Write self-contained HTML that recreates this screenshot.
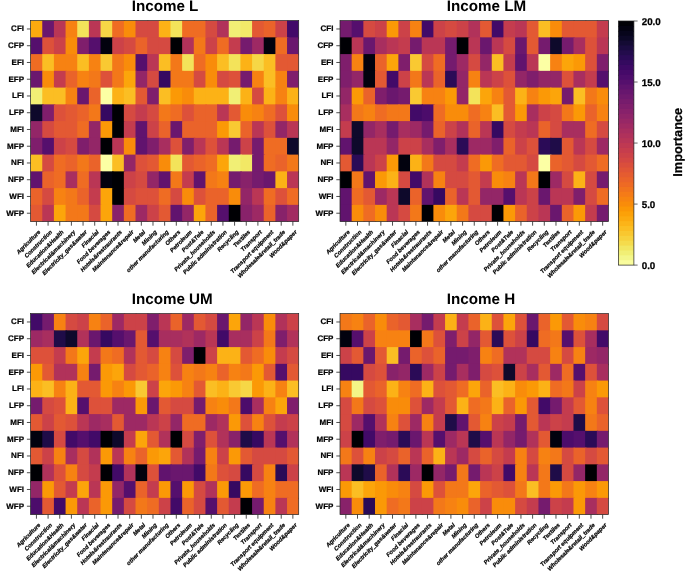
<!DOCTYPE html><html><head><meta charset="utf-8"><title>heatmaps</title><style>html,body{margin:0;padding:0;background:#fff}svg{display:block;will-change:transform}text{font-family:"Liberation Sans",sans-serif;font-weight:bold;fill:#000;text-rendering:geometricPrecision}.s text{stroke:#000;stroke-width:.22px}</style></head><body>
<svg width="685" height="580" viewBox="0 0 685 580">
<rect width="685" height="580" fill="#fff"/>
<g class="s">
<text transform="translate(131.70,10.60) rotate(0.02)" font-size="15.2" style="stroke:none">Income L</text>
<rect x="30.60" y="20.60" width="12.96" height="18.05" fill="#fcaa0f"/>
<rect x="42.26" y="20.60" width="12.96" height="18.05" fill="#6a176e"/>
<rect x="53.91" y="20.60" width="12.96" height="18.05" fill="#ba3655"/>
<rect x="65.57" y="20.60" width="12.96" height="18.05" fill="#f78212"/>
<rect x="77.23" y="20.60" width="12.96" height="18.05" fill="#f3e35a"/>
<rect x="88.88" y="20.60" width="12.96" height="18.05" fill="#ba3655"/>
<rect x="100.54" y="20.60" width="12.96" height="18.05" fill="#f6d746"/>
<rect x="112.20" y="20.60" width="12.96" height="18.05" fill="#ef6c23"/>
<rect x="123.85" y="20.60" width="12.96" height="18.05" fill="#f98c0a"/>
<rect x="135.51" y="20.60" width="12.96" height="18.05" fill="#d54a41"/>
<rect x="147.17" y="20.60" width="12.96" height="18.05" fill="#d54a41"/>
<rect x="158.82" y="20.60" width="12.96" height="18.05" fill="#fcb216"/>
<rect x="170.48" y="20.60" width="12.96" height="18.05" fill="#f3e35a"/>
<rect x="182.13" y="20.60" width="12.96" height="18.05" fill="#ef6c23"/>
<rect x="193.79" y="20.60" width="12.96" height="18.05" fill="#ef6c23"/>
<rect x="205.45" y="20.60" width="12.96" height="18.05" fill="#d54a41"/>
<rect x="217.10" y="20.60" width="12.96" height="18.05" fill="#b1325a"/>
<rect x="228.76" y="20.60" width="12.96" height="18.05" fill="#f1ef75"/>
<rect x="240.42" y="20.60" width="12.96" height="18.05" fill="#f2ea69"/>
<rect x="252.07" y="20.60" width="12.96" height="18.05" fill="#e35933"/>
<rect x="263.73" y="20.60" width="12.96" height="18.05" fill="#ea632a"/>
<rect x="275.39" y="20.60" width="12.96" height="18.05" fill="#cc4248"/>
<rect x="287.04" y="20.60" width="11.66" height="18.05" fill="#420a68"/>
<rect x="30.60" y="37.35" width="12.96" height="18.05" fill="#550f6d"/>
<rect x="42.26" y="37.35" width="12.96" height="18.05" fill="#dd513a"/>
<rect x="53.91" y="37.35" width="12.96" height="18.05" fill="#cc4248"/>
<rect x="65.57" y="37.35" width="12.96" height="18.05" fill="#f98c0a"/>
<rect x="77.23" y="37.35" width="12.96" height="18.05" fill="#7f1e6c"/>
<rect x="88.88" y="37.35" width="12.96" height="18.05" fill="#550f6d"/>
<rect x="100.54" y="37.35" width="12.96" height="18.05" fill="#02020e"/>
<rect x="112.20" y="37.35" width="12.96" height="18.05" fill="#cc4248"/>
<rect x="123.85" y="37.35" width="12.96" height="18.05" fill="#d54a41"/>
<rect x="135.51" y="37.35" width="12.96" height="18.05" fill="#ea632a"/>
<rect x="147.17" y="37.35" width="12.96" height="18.05" fill="#d54a41"/>
<rect x="158.82" y="37.35" width="12.96" height="18.05" fill="#d54a41"/>
<rect x="170.48" y="37.35" width="12.96" height="18.05" fill="#000004"/>
<rect x="182.13" y="37.35" width="12.96" height="18.05" fill="#b1325a"/>
<rect x="193.79" y="37.35" width="12.96" height="18.05" fill="#f37819"/>
<rect x="205.45" y="37.35" width="12.96" height="18.05" fill="#cc4248"/>
<rect x="217.10" y="37.35" width="12.96" height="18.05" fill="#ef6c23"/>
<rect x="228.76" y="37.35" width="12.96" height="18.05" fill="#c43c4e"/>
<rect x="240.42" y="37.35" width="12.96" height="18.05" fill="#751b6e"/>
<rect x="252.07" y="37.35" width="12.96" height="18.05" fill="#9d2964"/>
<rect x="263.73" y="37.35" width="12.96" height="18.05" fill="#02020e"/>
<rect x="275.39" y="37.35" width="12.96" height="18.05" fill="#ef6c23"/>
<rect x="287.04" y="37.35" width="11.66" height="18.05" fill="#6a176e"/>
<rect x="30.60" y="54.10" width="12.96" height="18.05" fill="#ef6c23"/>
<rect x="42.26" y="54.10" width="12.96" height="18.05" fill="#fbbe23"/>
<rect x="53.91" y="54.10" width="12.96" height="18.05" fill="#f78212"/>
<rect x="65.57" y="54.10" width="12.96" height="18.05" fill="#f78212"/>
<rect x="77.23" y="54.10" width="12.96" height="18.05" fill="#fbbe23"/>
<rect x="88.88" y="54.10" width="12.96" height="18.05" fill="#f78212"/>
<rect x="100.54" y="54.10" width="12.96" height="18.05" fill="#f9c932"/>
<rect x="112.20" y="54.10" width="12.96" height="18.05" fill="#f37819"/>
<rect x="123.85" y="54.10" width="12.96" height="18.05" fill="#f98c0a"/>
<rect x="135.51" y="54.10" width="12.96" height="18.05" fill="#550f6d"/>
<rect x="147.17" y="54.10" width="12.96" height="18.05" fill="#ba3655"/>
<rect x="158.82" y="54.10" width="12.96" height="18.05" fill="#fbbe23"/>
<rect x="170.48" y="54.10" width="12.96" height="18.05" fill="#f37819"/>
<rect x="182.13" y="54.10" width="12.96" height="18.05" fill="#f3e35a"/>
<rect x="193.79" y="54.10" width="12.96" height="18.05" fill="#ef6c23"/>
<rect x="205.45" y="54.10" width="12.96" height="18.05" fill="#f98c0a"/>
<rect x="217.10" y="54.10" width="12.96" height="18.05" fill="#fbbe23"/>
<rect x="228.76" y="54.10" width="12.96" height="18.05" fill="#f3e35a"/>
<rect x="240.42" y="54.10" width="12.96" height="18.05" fill="#fcb216"/>
<rect x="252.07" y="54.10" width="12.96" height="18.05" fill="#f6d746"/>
<rect x="263.73" y="54.10" width="12.96" height="18.05" fill="#fbbe23"/>
<rect x="275.39" y="54.10" width="12.96" height="18.05" fill="#e35933"/>
<rect x="287.04" y="54.10" width="11.66" height="18.05" fill="#e35933"/>
<rect x="30.60" y="70.85" width="12.96" height="18.05" fill="#6a176e"/>
<rect x="42.26" y="70.85" width="12.96" height="18.05" fill="#f98c0a"/>
<rect x="53.91" y="70.85" width="12.96" height="18.05" fill="#c43c4e"/>
<rect x="65.57" y="70.85" width="12.96" height="18.05" fill="#ea632a"/>
<rect x="77.23" y="70.85" width="12.96" height="18.05" fill="#f78212"/>
<rect x="88.88" y="70.85" width="12.96" height="18.05" fill="#f37819"/>
<rect x="100.54" y="70.85" width="12.96" height="18.05" fill="#dd513a"/>
<rect x="112.20" y="70.85" width="12.96" height="18.05" fill="#f37819"/>
<rect x="123.85" y="70.85" width="12.96" height="18.05" fill="#fca50a"/>
<rect x="135.51" y="70.85" width="12.96" height="18.05" fill="#932667"/>
<rect x="147.17" y="70.85" width="12.96" height="18.05" fill="#d54a41"/>
<rect x="158.82" y="70.85" width="12.96" height="18.05" fill="#360961"/>
<rect x="170.48" y="70.85" width="12.96" height="18.05" fill="#f37819"/>
<rect x="182.13" y="70.85" width="12.96" height="18.05" fill="#f37819"/>
<rect x="193.79" y="70.85" width="12.96" height="18.05" fill="#d54a41"/>
<rect x="205.45" y="70.85" width="12.96" height="18.05" fill="#f98c0a"/>
<rect x="217.10" y="70.85" width="12.96" height="18.05" fill="#d54a41"/>
<rect x="228.76" y="70.85" width="12.96" height="18.05" fill="#dd513a"/>
<rect x="240.42" y="70.85" width="12.96" height="18.05" fill="#751b6e"/>
<rect x="252.07" y="70.85" width="12.96" height="18.05" fill="#f78212"/>
<rect x="263.73" y="70.85" width="12.96" height="18.05" fill="#fbbe23"/>
<rect x="275.39" y="70.85" width="12.96" height="18.05" fill="#f78212"/>
<rect x="287.04" y="70.85" width="11.66" height="18.05" fill="#7f1e6c"/>
<rect x="30.60" y="87.60" width="12.96" height="18.05" fill="#f1ef75"/>
<rect x="42.26" y="87.60" width="12.96" height="18.05" fill="#fbbe23"/>
<rect x="53.91" y="87.60" width="12.96" height="18.05" fill="#fbbe23"/>
<rect x="65.57" y="87.60" width="12.96" height="18.05" fill="#f78212"/>
<rect x="77.23" y="87.60" width="12.96" height="18.05" fill="#6a176e"/>
<rect x="88.88" y="87.60" width="12.96" height="18.05" fill="#ea632a"/>
<rect x="100.54" y="87.60" width="12.96" height="18.05" fill="#fcffa4"/>
<rect x="112.20" y="87.60" width="12.96" height="18.05" fill="#fcb216"/>
<rect x="123.85" y="87.60" width="12.96" height="18.05" fill="#fbbe23"/>
<rect x="135.51" y="87.60" width="12.96" height="18.05" fill="#e35933"/>
<rect x="147.17" y="87.60" width="12.96" height="18.05" fill="#7f1e6c"/>
<rect x="158.82" y="87.60" width="12.96" height="18.05" fill="#fbbe23"/>
<rect x="170.48" y="87.60" width="12.96" height="18.05" fill="#fb9906"/>
<rect x="182.13" y="87.60" width="12.96" height="18.05" fill="#f98c0a"/>
<rect x="193.79" y="87.60" width="12.96" height="18.05" fill="#fcb216"/>
<rect x="205.45" y="87.60" width="12.96" height="18.05" fill="#fcb216"/>
<rect x="217.10" y="87.60" width="12.96" height="18.05" fill="#fcb216"/>
<rect x="228.76" y="87.60" width="12.96" height="18.05" fill="#f1ef75"/>
<rect x="240.42" y="87.60" width="12.96" height="18.05" fill="#fcb216"/>
<rect x="252.07" y="87.60" width="12.96" height="18.05" fill="#d54a41"/>
<rect x="263.73" y="87.60" width="12.96" height="18.05" fill="#fcb216"/>
<rect x="275.39" y="87.60" width="12.96" height="18.05" fill="#f78212"/>
<rect x="287.04" y="87.60" width="11.66" height="18.05" fill="#fcb216"/>
<rect x="30.60" y="104.35" width="12.96" height="18.05" fill="#0e092b"/>
<rect x="42.26" y="104.35" width="12.96" height="18.05" fill="#7f1e6c"/>
<rect x="53.91" y="104.35" width="12.96" height="18.05" fill="#dd513a"/>
<rect x="65.57" y="104.35" width="12.96" height="18.05" fill="#e35933"/>
<rect x="77.23" y="104.35" width="12.96" height="18.05" fill="#ea632a"/>
<rect x="88.88" y="104.35" width="12.96" height="18.05" fill="#f37819"/>
<rect x="100.54" y="104.35" width="12.96" height="18.05" fill="#360961"/>
<rect x="112.20" y="104.35" width="12.96" height="18.05" fill="#000004"/>
<rect x="123.85" y="104.35" width="12.96" height="18.05" fill="#d54a41"/>
<rect x="135.51" y="104.35" width="12.96" height="18.05" fill="#c43c4e"/>
<rect x="147.17" y="104.35" width="12.96" height="18.05" fill="#d54a41"/>
<rect x="158.82" y="104.35" width="12.96" height="18.05" fill="#f37819"/>
<rect x="170.48" y="104.35" width="12.96" height="18.05" fill="#ef6c23"/>
<rect x="182.13" y="104.35" width="12.96" height="18.05" fill="#dd513a"/>
<rect x="193.79" y="104.35" width="12.96" height="18.05" fill="#ea632a"/>
<rect x="205.45" y="104.35" width="12.96" height="18.05" fill="#ea632a"/>
<rect x="217.10" y="104.35" width="12.96" height="18.05" fill="#ba3655"/>
<rect x="228.76" y="104.35" width="12.96" height="18.05" fill="#e35933"/>
<rect x="240.42" y="104.35" width="12.96" height="18.05" fill="#f98c0a"/>
<rect x="252.07" y="104.35" width="12.96" height="18.05" fill="#f78212"/>
<rect x="263.73" y="104.35" width="12.96" height="18.05" fill="#ef6c23"/>
<rect x="275.39" y="104.35" width="12.96" height="18.05" fill="#dd513a"/>
<rect x="287.04" y="104.35" width="11.66" height="18.05" fill="#f98c0a"/>
<rect x="30.60" y="121.10" width="12.96" height="18.05" fill="#932667"/>
<rect x="42.26" y="121.10" width="12.96" height="18.05" fill="#d54a41"/>
<rect x="53.91" y="121.10" width="12.96" height="18.05" fill="#e35933"/>
<rect x="65.57" y="121.10" width="12.96" height="18.05" fill="#e35933"/>
<rect x="77.23" y="121.10" width="12.96" height="18.05" fill="#ef6c23"/>
<rect x="88.88" y="121.10" width="12.96" height="18.05" fill="#932667"/>
<rect x="100.54" y="121.10" width="12.96" height="18.05" fill="#fb9906"/>
<rect x="112.20" y="121.10" width="12.96" height="18.05" fill="#000004"/>
<rect x="123.85" y="121.10" width="12.96" height="18.05" fill="#c43c4e"/>
<rect x="135.51" y="121.10" width="12.96" height="18.05" fill="#61136e"/>
<rect x="147.17" y="121.10" width="12.96" height="18.05" fill="#cc4248"/>
<rect x="158.82" y="121.10" width="12.96" height="18.05" fill="#ea632a"/>
<rect x="170.48" y="121.10" width="12.96" height="18.05" fill="#6a176e"/>
<rect x="182.13" y="121.10" width="12.96" height="18.05" fill="#ea632a"/>
<rect x="193.79" y="121.10" width="12.96" height="18.05" fill="#ea632a"/>
<rect x="205.45" y="121.10" width="12.96" height="18.05" fill="#ea632a"/>
<rect x="217.10" y="121.10" width="12.96" height="18.05" fill="#fb9906"/>
<rect x="228.76" y="121.10" width="12.96" height="18.05" fill="#f9c932"/>
<rect x="240.42" y="121.10" width="12.96" height="18.05" fill="#ea632a"/>
<rect x="252.07" y="121.10" width="12.96" height="18.05" fill="#ba3655"/>
<rect x="263.73" y="121.10" width="12.96" height="18.05" fill="#dd513a"/>
<rect x="275.39" y="121.10" width="12.96" height="18.05" fill="#932667"/>
<rect x="287.04" y="121.10" width="11.66" height="18.05" fill="#ba3655"/>
<rect x="30.60" y="137.85" width="12.96" height="18.05" fill="#7f1e6c"/>
<rect x="42.26" y="137.85" width="12.96" height="18.05" fill="#550f6d"/>
<rect x="53.91" y="137.85" width="12.96" height="18.05" fill="#cc4248"/>
<rect x="65.57" y="137.85" width="12.96" height="18.05" fill="#d54a41"/>
<rect x="77.23" y="137.85" width="12.96" height="18.05" fill="#7f1e6c"/>
<rect x="88.88" y="137.85" width="12.96" height="18.05" fill="#932667"/>
<rect x="100.54" y="137.85" width="12.96" height="18.05" fill="#000004"/>
<rect x="112.20" y="137.85" width="12.96" height="18.05" fill="#ba3655"/>
<rect x="123.85" y="137.85" width="12.96" height="18.05" fill="#f98c0a"/>
<rect x="135.51" y="137.85" width="12.96" height="18.05" fill="#61136e"/>
<rect x="147.17" y="137.85" width="12.96" height="18.05" fill="#7f1e6c"/>
<rect x="158.82" y="137.85" width="12.96" height="18.05" fill="#a82e5f"/>
<rect x="170.48" y="137.85" width="12.96" height="18.05" fill="#dd513a"/>
<rect x="182.13" y="137.85" width="12.96" height="18.05" fill="#7f1e6c"/>
<rect x="193.79" y="137.85" width="12.96" height="18.05" fill="#ba3655"/>
<rect x="205.45" y="137.85" width="12.96" height="18.05" fill="#dd513a"/>
<rect x="217.10" y="137.85" width="12.96" height="18.05" fill="#ba3655"/>
<rect x="228.76" y="137.85" width="12.96" height="18.05" fill="#751b6e"/>
<rect x="240.42" y="137.85" width="12.96" height="18.05" fill="#cc4248"/>
<rect x="252.07" y="137.85" width="12.96" height="18.05" fill="#751b6e"/>
<rect x="263.73" y="137.85" width="12.96" height="18.05" fill="#ef6c23"/>
<rect x="275.39" y="137.85" width="12.96" height="18.05" fill="#ef6c23"/>
<rect x="287.04" y="137.85" width="11.66" height="18.05" fill="#0e092b"/>
<rect x="30.60" y="154.60" width="12.96" height="18.05" fill="#fbbe23"/>
<rect x="42.26" y="154.60" width="12.96" height="18.05" fill="#d54a41"/>
<rect x="53.91" y="154.60" width="12.96" height="18.05" fill="#ef6c23"/>
<rect x="65.57" y="154.60" width="12.96" height="18.05" fill="#ea632a"/>
<rect x="77.23" y="154.60" width="12.96" height="18.05" fill="#f37819"/>
<rect x="88.88" y="154.60" width="12.96" height="18.05" fill="#ea632a"/>
<rect x="100.54" y="154.60" width="12.96" height="18.05" fill="#fcffa4"/>
<rect x="112.20" y="154.60" width="12.96" height="18.05" fill="#fbbe23"/>
<rect x="123.85" y="154.60" width="12.96" height="18.05" fill="#932667"/>
<rect x="135.51" y="154.60" width="12.96" height="18.05" fill="#dd513a"/>
<rect x="147.17" y="154.60" width="12.96" height="18.05" fill="#e35933"/>
<rect x="158.82" y="154.60" width="12.96" height="18.05" fill="#f98c0a"/>
<rect x="170.48" y="154.60" width="12.96" height="18.05" fill="#f3e35a"/>
<rect x="182.13" y="154.60" width="12.96" height="18.05" fill="#e35933"/>
<rect x="193.79" y="154.60" width="12.96" height="18.05" fill="#ea632a"/>
<rect x="205.45" y="154.60" width="12.96" height="18.05" fill="#ef6c23"/>
<rect x="217.10" y="154.60" width="12.96" height="18.05" fill="#fca50a"/>
<rect x="228.76" y="154.60" width="12.96" height="18.05" fill="#f1ef75"/>
<rect x="240.42" y="154.60" width="12.96" height="18.05" fill="#f2e865"/>
<rect x="252.07" y="154.60" width="12.96" height="18.05" fill="#751b6e"/>
<rect x="263.73" y="154.60" width="12.96" height="18.05" fill="#ef6c23"/>
<rect x="275.39" y="154.60" width="12.96" height="18.05" fill="#ea632a"/>
<rect x="287.04" y="154.60" width="11.66" height="18.05" fill="#f37819"/>
<rect x="30.60" y="171.35" width="12.96" height="18.05" fill="#61136e"/>
<rect x="42.26" y="171.35" width="12.96" height="18.05" fill="#ea632a"/>
<rect x="53.91" y="171.35" width="12.96" height="18.05" fill="#ef6c23"/>
<rect x="65.57" y="171.35" width="12.96" height="18.05" fill="#a82e5f"/>
<rect x="77.23" y="171.35" width="12.96" height="18.05" fill="#ef6c23"/>
<rect x="88.88" y="171.35" width="12.96" height="18.05" fill="#ba3655"/>
<rect x="100.54" y="171.35" width="12.96" height="18.05" fill="#02020e"/>
<rect x="112.20" y="171.35" width="12.96" height="18.05" fill="#000004"/>
<rect x="123.85" y="171.35" width="12.96" height="18.05" fill="#cc4248"/>
<rect x="135.51" y="171.35" width="12.96" height="18.05" fill="#d54a41"/>
<rect x="147.17" y="171.35" width="12.96" height="18.05" fill="#932667"/>
<rect x="158.82" y="171.35" width="12.96" height="18.05" fill="#61136e"/>
<rect x="170.48" y="171.35" width="12.96" height="18.05" fill="#f37819"/>
<rect x="182.13" y="171.35" width="12.96" height="18.05" fill="#c43c4e"/>
<rect x="193.79" y="171.35" width="12.96" height="18.05" fill="#61136e"/>
<rect x="205.45" y="171.35" width="12.96" height="18.05" fill="#f37819"/>
<rect x="217.10" y="171.35" width="12.96" height="18.05" fill="#f78212"/>
<rect x="228.76" y="171.35" width="12.96" height="18.05" fill="#751b6e"/>
<rect x="240.42" y="171.35" width="12.96" height="18.05" fill="#88226a"/>
<rect x="252.07" y="171.35" width="12.96" height="18.05" fill="#751b6e"/>
<rect x="263.73" y="171.35" width="12.96" height="18.05" fill="#6a176e"/>
<rect x="275.39" y="171.35" width="12.96" height="18.05" fill="#fcb216"/>
<rect x="287.04" y="171.35" width="11.66" height="18.05" fill="#ba3655"/>
<rect x="30.60" y="188.10" width="12.96" height="18.05" fill="#ea632a"/>
<rect x="42.26" y="188.10" width="12.96" height="18.05" fill="#d54a41"/>
<rect x="53.91" y="188.10" width="12.96" height="18.05" fill="#f78212"/>
<rect x="65.57" y="188.10" width="12.96" height="18.05" fill="#f37819"/>
<rect x="77.23" y="188.10" width="12.96" height="18.05" fill="#ea632a"/>
<rect x="88.88" y="188.10" width="12.96" height="18.05" fill="#c43c4e"/>
<rect x="100.54" y="188.10" width="12.96" height="18.05" fill="#fca50a"/>
<rect x="112.20" y="188.10" width="12.96" height="18.05" fill="#000004"/>
<rect x="123.85" y="188.10" width="12.96" height="18.05" fill="#d54a41"/>
<rect x="135.51" y="188.10" width="12.96" height="18.05" fill="#dd513a"/>
<rect x="147.17" y="188.10" width="12.96" height="18.05" fill="#dd513a"/>
<rect x="158.82" y="188.10" width="12.96" height="18.05" fill="#ef6c23"/>
<rect x="170.48" y="188.10" width="12.96" height="18.05" fill="#d54a41"/>
<rect x="182.13" y="188.10" width="12.96" height="18.05" fill="#f98c0a"/>
<rect x="193.79" y="188.10" width="12.96" height="18.05" fill="#dd513a"/>
<rect x="205.45" y="188.10" width="12.96" height="18.05" fill="#ea632a"/>
<rect x="217.10" y="188.10" width="12.96" height="18.05" fill="#ea632a"/>
<rect x="228.76" y="188.10" width="12.96" height="18.05" fill="#f98c0a"/>
<rect x="240.42" y="188.10" width="12.96" height="18.05" fill="#932667"/>
<rect x="252.07" y="188.10" width="12.96" height="18.05" fill="#ba3655"/>
<rect x="263.73" y="188.10" width="12.96" height="18.05" fill="#ef6c23"/>
<rect x="275.39" y="188.10" width="12.96" height="18.05" fill="#dd513a"/>
<rect x="287.04" y="188.10" width="11.66" height="18.05" fill="#ef6c23"/>
<rect x="30.60" y="204.85" width="12.96" height="16.75" fill="#e35933"/>
<rect x="42.26" y="204.85" width="12.96" height="16.75" fill="#ba3655"/>
<rect x="53.91" y="204.85" width="12.96" height="16.75" fill="#fca50a"/>
<rect x="65.57" y="204.85" width="12.96" height="16.75" fill="#f37819"/>
<rect x="77.23" y="204.85" width="12.96" height="16.75" fill="#f37819"/>
<rect x="88.88" y="204.85" width="12.96" height="16.75" fill="#d54a41"/>
<rect x="100.54" y="204.85" width="12.96" height="16.75" fill="#fca50a"/>
<rect x="112.20" y="204.85" width="12.96" height="16.75" fill="#88226a"/>
<rect x="123.85" y="204.85" width="12.96" height="16.75" fill="#ef6c23"/>
<rect x="135.51" y="204.85" width="12.96" height="16.75" fill="#9d2964"/>
<rect x="147.17" y="204.85" width="12.96" height="16.75" fill="#cc4248"/>
<rect x="158.82" y="204.85" width="12.96" height="16.75" fill="#e35933"/>
<rect x="170.48" y="204.85" width="12.96" height="16.75" fill="#61136e"/>
<rect x="182.13" y="204.85" width="12.96" height="16.75" fill="#932667"/>
<rect x="193.79" y="204.85" width="12.96" height="16.75" fill="#fca50a"/>
<rect x="205.45" y="204.85" width="12.96" height="16.75" fill="#ea632a"/>
<rect x="217.10" y="204.85" width="12.96" height="16.75" fill="#550f6d"/>
<rect x="228.76" y="204.85" width="12.96" height="16.75" fill="#000004"/>
<rect x="240.42" y="204.85" width="12.96" height="16.75" fill="#88226a"/>
<rect x="252.07" y="204.85" width="12.96" height="16.75" fill="#9d2964"/>
<rect x="263.73" y="204.85" width="12.96" height="16.75" fill="#ea632a"/>
<rect x="275.39" y="204.85" width="12.96" height="16.75" fill="#88226a"/>
<rect x="287.04" y="204.85" width="11.66" height="16.75" fill="#a22b62"/>
<rect x="30.60" y="20.60" width="268.10" height="201.00" fill="none" stroke="#222" stroke-width="0.7"/>
<line x1="26.90" y1="28.98" x2="30.60" y2="28.98" stroke="#222" stroke-width="0.8"/>
<text x="24.00" y="31.38" font-size="8" text-anchor="end">CFI</text>
<line x1="26.90" y1="45.73" x2="30.60" y2="45.73" stroke="#222" stroke-width="0.8"/>
<text x="24.00" y="48.12" font-size="8" text-anchor="end">CFP</text>
<line x1="26.90" y1="62.48" x2="30.60" y2="62.48" stroke="#222" stroke-width="0.8"/>
<text x="24.00" y="64.88" font-size="8" text-anchor="end">EFI</text>
<line x1="26.90" y1="79.22" x2="30.60" y2="79.22" stroke="#222" stroke-width="0.8"/>
<text x="24.00" y="81.62" font-size="8" text-anchor="end">EFP</text>
<line x1="26.90" y1="95.97" x2="30.60" y2="95.97" stroke="#222" stroke-width="0.8"/>
<text x="24.00" y="98.38" font-size="8" text-anchor="end">LFI</text>
<line x1="26.90" y1="112.72" x2="30.60" y2="112.72" stroke="#222" stroke-width="0.8"/>
<text x="24.00" y="115.12" font-size="8" text-anchor="end">LFP</text>
<line x1="26.90" y1="129.47" x2="30.60" y2="129.47" stroke="#222" stroke-width="0.8"/>
<text x="24.00" y="131.88" font-size="8" text-anchor="end">MFI</text>
<line x1="26.90" y1="146.22" x2="30.60" y2="146.22" stroke="#222" stroke-width="0.8"/>
<text x="24.00" y="148.62" font-size="8" text-anchor="end">MFP</text>
<line x1="26.90" y1="162.97" x2="30.60" y2="162.97" stroke="#222" stroke-width="0.8"/>
<text x="24.00" y="165.38" font-size="8" text-anchor="end">NFI</text>
<line x1="26.90" y1="179.72" x2="30.60" y2="179.72" stroke="#222" stroke-width="0.8"/>
<text x="24.00" y="182.12" font-size="8" text-anchor="end">NFP</text>
<line x1="26.90" y1="196.47" x2="30.60" y2="196.47" stroke="#222" stroke-width="0.8"/>
<text x="24.00" y="198.88" font-size="8" text-anchor="end">WFI</text>
<line x1="26.90" y1="213.22" x2="30.60" y2="213.22" stroke="#222" stroke-width="0.8"/>
<text x="24.00" y="215.62" font-size="8" text-anchor="end">WFP</text>
<line x1="36.43" y1="221.60" x2="36.43" y2="225.70" stroke="#222" stroke-width="0.8"/>
<text transform="translate(40.83,232.50) rotate(-45)" font-size="5.85" font-style="italic" text-anchor="end">Agriculture</text>
<line x1="48.08" y1="221.60" x2="48.08" y2="225.70" stroke="#222" stroke-width="0.8"/>
<text transform="translate(52.48,232.50) rotate(-45)" font-size="5.85" font-style="italic" text-anchor="end">Construction</text>
<line x1="59.74" y1="221.60" x2="59.74" y2="225.70" stroke="#222" stroke-width="0.8"/>
<text transform="translate(64.14,232.50) rotate(-45)" font-size="5.85" font-style="italic" text-anchor="end">Education&amp;Health</text>
<line x1="71.40" y1="221.60" x2="71.40" y2="225.70" stroke="#222" stroke-width="0.8"/>
<text transform="translate(75.80,232.50) rotate(-45)" font-size="5.85" font-style="italic" text-anchor="end">Electrical&amp;machinery</text>
<line x1="83.05" y1="221.60" x2="83.05" y2="225.70" stroke="#222" stroke-width="0.8"/>
<text transform="translate(87.45,232.50) rotate(-45)" font-size="5.85" font-style="italic" text-anchor="end">Electricity_gas&amp;water</text>
<line x1="94.71" y1="221.60" x2="94.71" y2="225.70" stroke="#222" stroke-width="0.8"/>
<text transform="translate(99.11,232.50) rotate(-45)" font-size="5.85" font-style="italic" text-anchor="end">Finacial</text>
<line x1="106.37" y1="221.60" x2="106.37" y2="225.70" stroke="#222" stroke-width="0.8"/>
<text transform="translate(110.77,232.50) rotate(-45)" font-size="5.85" font-style="italic" text-anchor="end">Food beverages</text>
<line x1="118.02" y1="221.60" x2="118.02" y2="225.70" stroke="#222" stroke-width="0.8"/>
<text transform="translate(122.42,232.50) rotate(-45)" font-size="5.85" font-style="italic" text-anchor="end">Hotels&amp;restraurants</text>
<line x1="129.68" y1="221.60" x2="129.68" y2="225.70" stroke="#222" stroke-width="0.8"/>
<text transform="translate(134.08,232.50) rotate(-45)" font-size="5.85" font-style="italic" text-anchor="end">Maintenance&amp;repair</text>
<line x1="141.34" y1="221.60" x2="141.34" y2="225.70" stroke="#222" stroke-width="0.8"/>
<text transform="translate(145.74,232.50) rotate(-45)" font-size="5.85" font-style="italic" text-anchor="end">Metal</text>
<line x1="152.99" y1="221.60" x2="152.99" y2="225.70" stroke="#222" stroke-width="0.8"/>
<text transform="translate(157.39,232.50) rotate(-45)" font-size="5.85" font-style="italic" text-anchor="end">Mining</text>
<line x1="164.65" y1="221.60" x2="164.65" y2="225.70" stroke="#222" stroke-width="0.8"/>
<text transform="translate(169.05,232.50) rotate(-45)" font-size="5.85" font-style="italic" text-anchor="end">other manufacturing</text>
<line x1="176.31" y1="221.60" x2="176.31" y2="225.70" stroke="#222" stroke-width="0.8"/>
<text transform="translate(180.71,232.50) rotate(-45)" font-size="5.85" font-style="italic" text-anchor="end">Others</text>
<line x1="187.96" y1="221.60" x2="187.96" y2="225.70" stroke="#222" stroke-width="0.8"/>
<text transform="translate(192.36,232.50) rotate(-45)" font-size="5.85" font-style="italic" text-anchor="end">Petroleum</text>
<line x1="199.62" y1="221.60" x2="199.62" y2="225.70" stroke="#222" stroke-width="0.8"/>
<text transform="translate(204.02,232.50) rotate(-45)" font-size="5.85" font-style="italic" text-anchor="end">Post&amp;Tele</text>
<line x1="211.28" y1="221.60" x2="211.28" y2="225.70" stroke="#222" stroke-width="0.8"/>
<text transform="translate(215.68,232.50) rotate(-45)" font-size="5.85" font-style="italic" text-anchor="end">Private_households</text>
<line x1="222.93" y1="221.60" x2="222.93" y2="225.70" stroke="#222" stroke-width="0.8"/>
<text transform="translate(227.33,232.50) rotate(-45)" font-size="5.85" font-style="italic" text-anchor="end">Public administration</text>
<line x1="234.59" y1="221.60" x2="234.59" y2="225.70" stroke="#222" stroke-width="0.8"/>
<text transform="translate(238.99,232.50) rotate(-45)" font-size="5.85" font-style="italic" text-anchor="end">Recycling</text>
<line x1="246.25" y1="221.60" x2="246.25" y2="225.70" stroke="#222" stroke-width="0.8"/>
<text transform="translate(250.65,232.50) rotate(-45)" font-size="5.85" font-style="italic" text-anchor="end">Textiles</text>
<line x1="257.90" y1="221.60" x2="257.90" y2="225.70" stroke="#222" stroke-width="0.8"/>
<text transform="translate(262.30,232.50) rotate(-45)" font-size="5.85" font-style="italic" text-anchor="end">Transport</text>
<line x1="269.56" y1="221.60" x2="269.56" y2="225.70" stroke="#222" stroke-width="0.8"/>
<text transform="translate(273.96,232.50) rotate(-45)" font-size="5.85" font-style="italic" text-anchor="end">Transport equipment</text>
<line x1="281.22" y1="221.60" x2="281.22" y2="225.70" stroke="#222" stroke-width="0.8"/>
<text transform="translate(285.62,232.50) rotate(-45)" font-size="5.85" font-style="italic" text-anchor="end">Wholesale&amp;retail_trade</text>
<line x1="292.87" y1="221.60" x2="292.87" y2="225.70" stroke="#222" stroke-width="0.8"/>
<text transform="translate(297.27,232.50) rotate(-45)" font-size="5.85" font-style="italic" text-anchor="end">Wood&amp;paper</text>
</g>
<g class="s">
<text transform="translate(446.80,10.60) rotate(0.02)" font-size="15.2" style="stroke:none">Income LM</text>
<rect x="340.00" y="20.60" width="12.97" height="18.05" fill="#751b6e"/>
<rect x="351.67" y="20.60" width="12.97" height="18.05" fill="#550f6d"/>
<rect x="363.35" y="20.60" width="12.97" height="18.05" fill="#d54a41"/>
<rect x="375.02" y="20.60" width="12.97" height="18.05" fill="#cc4248"/>
<rect x="386.70" y="20.60" width="12.97" height="18.05" fill="#fb9906"/>
<rect x="398.37" y="20.60" width="12.97" height="18.05" fill="#cc4248"/>
<rect x="410.04" y="20.60" width="12.97" height="18.05" fill="#f78212"/>
<rect x="421.72" y="20.60" width="12.97" height="18.05" fill="#420a68"/>
<rect x="433.39" y="20.60" width="12.97" height="18.05" fill="#cc4248"/>
<rect x="445.07" y="20.60" width="12.97" height="18.05" fill="#d54a41"/>
<rect x="456.74" y="20.60" width="12.97" height="18.05" fill="#cc4248"/>
<rect x="468.41" y="20.60" width="12.97" height="18.05" fill="#b1325a"/>
<rect x="480.09" y="20.60" width="12.97" height="18.05" fill="#e35933"/>
<rect x="491.76" y="20.60" width="12.97" height="18.05" fill="#420a68"/>
<rect x="503.43" y="20.60" width="12.97" height="18.05" fill="#c43c4e"/>
<rect x="515.11" y="20.60" width="12.97" height="18.05" fill="#ba3655"/>
<rect x="526.78" y="20.60" width="12.97" height="18.05" fill="#e35933"/>
<rect x="538.46" y="20.60" width="12.97" height="18.05" fill="#fbbe23"/>
<rect x="550.13" y="20.60" width="12.97" height="18.05" fill="#f98c0a"/>
<rect x="561.80" y="20.60" width="12.97" height="18.05" fill="#e35933"/>
<rect x="573.48" y="20.60" width="12.97" height="18.05" fill="#e35933"/>
<rect x="585.15" y="20.60" width="12.97" height="18.05" fill="#e35933"/>
<rect x="596.83" y="20.60" width="11.67" height="18.05" fill="#c43c4e"/>
<rect x="340.00" y="37.35" width="12.97" height="18.05" fill="#000004"/>
<rect x="351.67" y="37.35" width="12.97" height="18.05" fill="#ba3655"/>
<rect x="363.35" y="37.35" width="12.97" height="18.05" fill="#6a176e"/>
<rect x="375.02" y="37.35" width="12.97" height="18.05" fill="#a82e5f"/>
<rect x="386.70" y="37.35" width="12.97" height="18.05" fill="#ba3655"/>
<rect x="398.37" y="37.35" width="12.97" height="18.05" fill="#c43c4e"/>
<rect x="410.04" y="37.35" width="12.97" height="18.05" fill="#751b6e"/>
<rect x="421.72" y="37.35" width="12.97" height="18.05" fill="#ba3655"/>
<rect x="433.39" y="37.35" width="12.97" height="18.05" fill="#ba3655"/>
<rect x="445.07" y="37.35" width="12.97" height="18.05" fill="#751b6e"/>
<rect x="456.74" y="37.35" width="12.97" height="18.05" fill="#000004"/>
<rect x="468.41" y="37.35" width="12.97" height="18.05" fill="#ba3655"/>
<rect x="480.09" y="37.35" width="12.97" height="18.05" fill="#6a176e"/>
<rect x="491.76" y="37.35" width="12.97" height="18.05" fill="#ba3655"/>
<rect x="503.43" y="37.35" width="12.97" height="18.05" fill="#d54a41"/>
<rect x="515.11" y="37.35" width="12.97" height="18.05" fill="#6a176e"/>
<rect x="526.78" y="37.35" width="12.97" height="18.05" fill="#e35933"/>
<rect x="538.46" y="37.35" width="12.97" height="18.05" fill="#751b6e"/>
<rect x="550.13" y="37.35" width="12.97" height="18.05" fill="#0e092b"/>
<rect x="561.80" y="37.35" width="12.97" height="18.05" fill="#751b6e"/>
<rect x="573.48" y="37.35" width="12.97" height="18.05" fill="#a82e5f"/>
<rect x="585.15" y="37.35" width="12.97" height="18.05" fill="#dd513a"/>
<rect x="596.83" y="37.35" width="11.67" height="18.05" fill="#ba3655"/>
<rect x="340.00" y="54.10" width="12.97" height="18.05" fill="#7f1e6c"/>
<rect x="351.67" y="54.10" width="12.97" height="18.05" fill="#f78212"/>
<rect x="363.35" y="54.10" width="12.97" height="18.05" fill="#02020e"/>
<rect x="375.02" y="54.10" width="12.97" height="18.05" fill="#ea632a"/>
<rect x="386.70" y="54.10" width="12.97" height="18.05" fill="#fca50a"/>
<rect x="398.37" y="54.10" width="12.97" height="18.05" fill="#7f1e6c"/>
<rect x="410.04" y="54.10" width="12.97" height="18.05" fill="#f9c932"/>
<rect x="421.72" y="54.10" width="12.97" height="18.05" fill="#d54a41"/>
<rect x="433.39" y="54.10" width="12.97" height="18.05" fill="#ef6c23"/>
<rect x="445.07" y="54.10" width="12.97" height="18.05" fill="#751b6e"/>
<rect x="456.74" y="54.10" width="12.97" height="18.05" fill="#9d2964"/>
<rect x="468.41" y="54.10" width="12.97" height="18.05" fill="#d54a41"/>
<rect x="480.09" y="54.10" width="12.97" height="18.05" fill="#932667"/>
<rect x="491.76" y="54.10" width="12.97" height="18.05" fill="#fbbe23"/>
<rect x="503.43" y="54.10" width="12.97" height="18.05" fill="#c43c4e"/>
<rect x="515.11" y="54.10" width="12.97" height="18.05" fill="#61136e"/>
<rect x="526.78" y="54.10" width="12.97" height="18.05" fill="#ba3655"/>
<rect x="538.46" y="54.10" width="12.97" height="18.05" fill="#fcffa4"/>
<rect x="550.13" y="54.10" width="12.97" height="18.05" fill="#f78212"/>
<rect x="561.80" y="54.10" width="12.97" height="18.05" fill="#fca50a"/>
<rect x="573.48" y="54.10" width="12.97" height="18.05" fill="#fb9906"/>
<rect x="585.15" y="54.10" width="12.97" height="18.05" fill="#dd513a"/>
<rect x="596.83" y="54.10" width="11.67" height="18.05" fill="#7f1e6c"/>
<rect x="340.00" y="70.85" width="12.97" height="18.05" fill="#7f1e6c"/>
<rect x="351.67" y="70.85" width="12.97" height="18.05" fill="#932667"/>
<rect x="363.35" y="70.85" width="12.97" height="18.05" fill="#02020e"/>
<rect x="375.02" y="70.85" width="12.97" height="18.05" fill="#e35933"/>
<rect x="386.70" y="70.85" width="12.97" height="18.05" fill="#420a68"/>
<rect x="398.37" y="70.85" width="12.97" height="18.05" fill="#cc4248"/>
<rect x="410.04" y="70.85" width="12.97" height="18.05" fill="#f37819"/>
<rect x="421.72" y="70.85" width="12.97" height="18.05" fill="#ba3655"/>
<rect x="433.39" y="70.85" width="12.97" height="18.05" fill="#ea632a"/>
<rect x="445.07" y="70.85" width="12.97" height="18.05" fill="#2b0b57"/>
<rect x="456.74" y="70.85" width="12.97" height="18.05" fill="#932667"/>
<rect x="468.41" y="70.85" width="12.97" height="18.05" fill="#f78212"/>
<rect x="480.09" y="70.85" width="12.97" height="18.05" fill="#ba3655"/>
<rect x="491.76" y="70.85" width="12.97" height="18.05" fill="#cc4248"/>
<rect x="503.43" y="70.85" width="12.97" height="18.05" fill="#dd513a"/>
<rect x="515.11" y="70.85" width="12.97" height="18.05" fill="#932667"/>
<rect x="526.78" y="70.85" width="12.97" height="18.05" fill="#7f1e6c"/>
<rect x="538.46" y="70.85" width="12.97" height="18.05" fill="#932667"/>
<rect x="550.13" y="70.85" width="12.97" height="18.05" fill="#932667"/>
<rect x="561.80" y="70.85" width="12.97" height="18.05" fill="#dd513a"/>
<rect x="573.48" y="70.85" width="12.97" height="18.05" fill="#a82e5f"/>
<rect x="585.15" y="70.85" width="12.97" height="18.05" fill="#c43c4e"/>
<rect x="596.83" y="70.85" width="11.67" height="18.05" fill="#550f6d"/>
<rect x="340.00" y="87.60" width="12.97" height="18.05" fill="#932667"/>
<rect x="351.67" y="87.60" width="12.97" height="18.05" fill="#fb9906"/>
<rect x="363.35" y="87.60" width="12.97" height="18.05" fill="#ea632a"/>
<rect x="375.02" y="87.60" width="12.97" height="18.05" fill="#7f1e6c"/>
<rect x="386.70" y="87.60" width="12.97" height="18.05" fill="#6a176e"/>
<rect x="398.37" y="87.60" width="12.97" height="18.05" fill="#751b6e"/>
<rect x="410.04" y="87.60" width="12.97" height="18.05" fill="#f9c932"/>
<rect x="421.72" y="87.60" width="12.97" height="18.05" fill="#f78212"/>
<rect x="433.39" y="87.60" width="12.97" height="18.05" fill="#f78212"/>
<rect x="445.07" y="87.60" width="12.97" height="18.05" fill="#fb9906"/>
<rect x="456.74" y="87.60" width="12.97" height="18.05" fill="#932667"/>
<rect x="468.41" y="87.60" width="12.97" height="18.05" fill="#f3e35a"/>
<rect x="480.09" y="87.60" width="12.97" height="18.05" fill="#fca50a"/>
<rect x="491.76" y="87.60" width="12.97" height="18.05" fill="#f78212"/>
<rect x="503.43" y="87.60" width="12.97" height="18.05" fill="#e35933"/>
<rect x="515.11" y="87.60" width="12.97" height="18.05" fill="#fcb216"/>
<rect x="526.78" y="87.60" width="12.97" height="18.05" fill="#f78212"/>
<rect x="538.46" y="87.60" width="12.97" height="18.05" fill="#fb9906"/>
<rect x="550.13" y="87.60" width="12.97" height="18.05" fill="#fca50a"/>
<rect x="561.80" y="87.60" width="12.97" height="18.05" fill="#751b6e"/>
<rect x="573.48" y="87.60" width="12.97" height="18.05" fill="#fbbe23"/>
<rect x="585.15" y="87.60" width="12.97" height="18.05" fill="#f37819"/>
<rect x="596.83" y="87.60" width="11.67" height="18.05" fill="#f98c0a"/>
<rect x="340.00" y="104.35" width="12.97" height="18.05" fill="#a82e5f"/>
<rect x="351.67" y="104.35" width="12.97" height="18.05" fill="#f37819"/>
<rect x="363.35" y="104.35" width="12.97" height="18.05" fill="#f78212"/>
<rect x="375.02" y="104.35" width="12.97" height="18.05" fill="#ef6c23"/>
<rect x="386.70" y="104.35" width="12.97" height="18.05" fill="#f37819"/>
<rect x="398.37" y="104.35" width="12.97" height="18.05" fill="#f37819"/>
<rect x="410.04" y="104.35" width="12.97" height="18.05" fill="#420a68"/>
<rect x="421.72" y="104.35" width="12.97" height="18.05" fill="#4c0c6b"/>
<rect x="433.39" y="104.35" width="12.97" height="18.05" fill="#ef6c23"/>
<rect x="445.07" y="104.35" width="12.97" height="18.05" fill="#f98c0a"/>
<rect x="456.74" y="104.35" width="12.97" height="18.05" fill="#f98c0a"/>
<rect x="468.41" y="104.35" width="12.97" height="18.05" fill="#ef6c23"/>
<rect x="480.09" y="104.35" width="12.97" height="18.05" fill="#f78212"/>
<rect x="491.76" y="104.35" width="12.97" height="18.05" fill="#fbbe23"/>
<rect x="503.43" y="104.35" width="12.97" height="18.05" fill="#e35933"/>
<rect x="515.11" y="104.35" width="12.97" height="18.05" fill="#fb9906"/>
<rect x="526.78" y="104.35" width="12.97" height="18.05" fill="#a82e5f"/>
<rect x="538.46" y="104.35" width="12.97" height="18.05" fill="#cc4248"/>
<rect x="550.13" y="104.35" width="12.97" height="18.05" fill="#d54a41"/>
<rect x="561.80" y="104.35" width="12.97" height="18.05" fill="#f37819"/>
<rect x="573.48" y="104.35" width="12.97" height="18.05" fill="#fb9906"/>
<rect x="585.15" y="104.35" width="12.97" height="18.05" fill="#ea632a"/>
<rect x="596.83" y="104.35" width="11.67" height="18.05" fill="#f78212"/>
<rect x="340.00" y="121.10" width="12.97" height="18.05" fill="#c43c4e"/>
<rect x="351.67" y="121.10" width="12.97" height="18.05" fill="#0e092b"/>
<rect x="363.35" y="121.10" width="12.97" height="18.05" fill="#932667"/>
<rect x="375.02" y="121.10" width="12.97" height="18.05" fill="#a82e5f"/>
<rect x="386.70" y="121.10" width="12.97" height="18.05" fill="#751b6e"/>
<rect x="398.37" y="121.10" width="12.97" height="18.05" fill="#a82e5f"/>
<rect x="410.04" y="121.10" width="12.97" height="18.05" fill="#9d2964"/>
<rect x="421.72" y="121.10" width="12.97" height="18.05" fill="#751b6e"/>
<rect x="433.39" y="121.10" width="12.97" height="18.05" fill="#ea632a"/>
<rect x="445.07" y="121.10" width="12.97" height="18.05" fill="#cc4248"/>
<rect x="456.74" y="121.10" width="12.97" height="18.05" fill="#b1325a"/>
<rect x="468.41" y="121.10" width="12.97" height="18.05" fill="#ea632a"/>
<rect x="480.09" y="121.10" width="12.97" height="18.05" fill="#ba3655"/>
<rect x="491.76" y="121.10" width="12.97" height="18.05" fill="#360961"/>
<rect x="503.43" y="121.10" width="12.97" height="18.05" fill="#d54a41"/>
<rect x="515.11" y="121.10" width="12.97" height="18.05" fill="#c43c4e"/>
<rect x="526.78" y="121.10" width="12.97" height="18.05" fill="#ba3655"/>
<rect x="538.46" y="121.10" width="12.97" height="18.05" fill="#ea632a"/>
<rect x="550.13" y="121.10" width="12.97" height="18.05" fill="#d54a41"/>
<rect x="561.80" y="121.10" width="12.97" height="18.05" fill="#a82e5f"/>
<rect x="573.48" y="121.10" width="12.97" height="18.05" fill="#a82e5f"/>
<rect x="585.15" y="121.10" width="12.97" height="18.05" fill="#ef6c23"/>
<rect x="596.83" y="121.10" width="11.67" height="18.05" fill="#d54a41"/>
<rect x="340.00" y="137.85" width="12.97" height="18.05" fill="#61136e"/>
<rect x="351.67" y="137.85" width="12.97" height="18.05" fill="#0e092b"/>
<rect x="363.35" y="137.85" width="12.97" height="18.05" fill="#ba3655"/>
<rect x="375.02" y="137.85" width="12.97" height="18.05" fill="#ba3655"/>
<rect x="386.70" y="137.85" width="12.97" height="18.05" fill="#932667"/>
<rect x="398.37" y="137.85" width="12.97" height="18.05" fill="#cc4248"/>
<rect x="410.04" y="137.85" width="12.97" height="18.05" fill="#cc4248"/>
<rect x="421.72" y="137.85" width="12.97" height="18.05" fill="#a82e5f"/>
<rect x="433.39" y="137.85" width="12.97" height="18.05" fill="#7f1e6c"/>
<rect x="445.07" y="137.85" width="12.97" height="18.05" fill="#a82e5f"/>
<rect x="456.74" y="137.85" width="12.97" height="18.05" fill="#2b0b57"/>
<rect x="468.41" y="137.85" width="12.97" height="18.05" fill="#9d2964"/>
<rect x="480.09" y="137.85" width="12.97" height="18.05" fill="#9d2964"/>
<rect x="491.76" y="137.85" width="12.97" height="18.05" fill="#7f1e6c"/>
<rect x="503.43" y="137.85" width="12.97" height="18.05" fill="#ea632a"/>
<rect x="515.11" y="137.85" width="12.97" height="18.05" fill="#cc4248"/>
<rect x="526.78" y="137.85" width="12.97" height="18.05" fill="#dd513a"/>
<rect x="538.46" y="137.85" width="12.97" height="18.05" fill="#2b0b57"/>
<rect x="550.13" y="137.85" width="12.97" height="18.05" fill="#1f0c48"/>
<rect x="561.80" y="137.85" width="12.97" height="18.05" fill="#e35933"/>
<rect x="573.48" y="137.85" width="12.97" height="18.05" fill="#ba3655"/>
<rect x="585.15" y="137.85" width="12.97" height="18.05" fill="#d54a41"/>
<rect x="596.83" y="137.85" width="11.67" height="18.05" fill="#9d2964"/>
<rect x="340.00" y="154.60" width="12.97" height="18.05" fill="#e35933"/>
<rect x="351.67" y="154.60" width="12.97" height="18.05" fill="#2b0b57"/>
<rect x="363.35" y="154.60" width="12.97" height="18.05" fill="#ba3655"/>
<rect x="375.02" y="154.60" width="12.97" height="18.05" fill="#cc4248"/>
<rect x="386.70" y="154.60" width="12.97" height="18.05" fill="#fb9906"/>
<rect x="398.37" y="154.60" width="12.97" height="18.05" fill="#02020e"/>
<rect x="410.04" y="154.60" width="12.97" height="18.05" fill="#fcb216"/>
<rect x="421.72" y="154.60" width="12.97" height="18.05" fill="#f37819"/>
<rect x="433.39" y="154.60" width="12.97" height="18.05" fill="#d54a41"/>
<rect x="445.07" y="154.60" width="12.97" height="18.05" fill="#d54a41"/>
<rect x="456.74" y="154.60" width="12.97" height="18.05" fill="#c43c4e"/>
<rect x="468.41" y="154.60" width="12.97" height="18.05" fill="#ef6c23"/>
<rect x="480.09" y="154.60" width="12.97" height="18.05" fill="#fb9906"/>
<rect x="491.76" y="154.60" width="12.97" height="18.05" fill="#ef6c23"/>
<rect x="503.43" y="154.60" width="12.97" height="18.05" fill="#e35933"/>
<rect x="515.11" y="154.60" width="12.97" height="18.05" fill="#e35933"/>
<rect x="526.78" y="154.60" width="12.97" height="18.05" fill="#d54a41"/>
<rect x="538.46" y="154.60" width="12.97" height="18.05" fill="#fcffa4"/>
<rect x="550.13" y="154.60" width="12.97" height="18.05" fill="#ea632a"/>
<rect x="561.80" y="154.60" width="12.97" height="18.05" fill="#e35933"/>
<rect x="573.48" y="154.60" width="12.97" height="18.05" fill="#d54a41"/>
<rect x="585.15" y="154.60" width="12.97" height="18.05" fill="#e35933"/>
<rect x="596.83" y="154.60" width="11.67" height="18.05" fill="#ef6c23"/>
<rect x="340.00" y="171.35" width="12.97" height="18.05" fill="#000004"/>
<rect x="351.67" y="171.35" width="12.97" height="18.05" fill="#f37819"/>
<rect x="363.35" y="171.35" width="12.97" height="18.05" fill="#61136e"/>
<rect x="375.02" y="171.35" width="12.97" height="18.05" fill="#fb9906"/>
<rect x="386.70" y="171.35" width="12.97" height="18.05" fill="#fcb216"/>
<rect x="398.37" y="171.35" width="12.97" height="18.05" fill="#d54a41"/>
<rect x="410.04" y="171.35" width="12.97" height="18.05" fill="#420a68"/>
<rect x="421.72" y="171.35" width="12.97" height="18.05" fill="#b1325a"/>
<rect x="433.39" y="171.35" width="12.97" height="18.05" fill="#f78212"/>
<rect x="445.07" y="171.35" width="12.97" height="18.05" fill="#d54a41"/>
<rect x="456.74" y="171.35" width="12.97" height="18.05" fill="#d54a41"/>
<rect x="468.41" y="171.35" width="12.97" height="18.05" fill="#e35933"/>
<rect x="480.09" y="171.35" width="12.97" height="18.05" fill="#c43c4e"/>
<rect x="491.76" y="171.35" width="12.97" height="18.05" fill="#f98c0a"/>
<rect x="503.43" y="171.35" width="12.97" height="18.05" fill="#f78212"/>
<rect x="515.11" y="171.35" width="12.97" height="18.05" fill="#ba3655"/>
<rect x="526.78" y="171.35" width="12.97" height="18.05" fill="#f37819"/>
<rect x="538.46" y="171.35" width="12.97" height="18.05" fill="#000004"/>
<rect x="550.13" y="171.35" width="12.97" height="18.05" fill="#9d2964"/>
<rect x="561.80" y="171.35" width="12.97" height="18.05" fill="#d54a41"/>
<rect x="573.48" y="171.35" width="12.97" height="18.05" fill="#fcb216"/>
<rect x="585.15" y="171.35" width="12.97" height="18.05" fill="#d54a41"/>
<rect x="596.83" y="171.35" width="11.67" height="18.05" fill="#751b6e"/>
<rect x="340.00" y="188.10" width="12.97" height="18.05" fill="#61136e"/>
<rect x="351.67" y="188.10" width="12.97" height="18.05" fill="#ef6c23"/>
<rect x="363.35" y="188.10" width="12.97" height="18.05" fill="#e35933"/>
<rect x="375.02" y="188.10" width="12.97" height="18.05" fill="#9d2964"/>
<rect x="386.70" y="188.10" width="12.97" height="18.05" fill="#ba3655"/>
<rect x="398.37" y="188.10" width="12.97" height="18.05" fill="#0e092b"/>
<rect x="410.04" y="188.10" width="12.97" height="18.05" fill="#ea632a"/>
<rect x="421.72" y="188.10" width="12.97" height="18.05" fill="#61136e"/>
<rect x="433.39" y="188.10" width="12.97" height="18.05" fill="#360961"/>
<rect x="445.07" y="188.10" width="12.97" height="18.05" fill="#ea632a"/>
<rect x="456.74" y="188.10" width="12.97" height="18.05" fill="#ba3655"/>
<rect x="468.41" y="188.10" width="12.97" height="18.05" fill="#e35933"/>
<rect x="480.09" y="188.10" width="12.97" height="18.05" fill="#932667"/>
<rect x="491.76" y="188.10" width="12.97" height="18.05" fill="#932667"/>
<rect x="503.43" y="188.10" width="12.97" height="18.05" fill="#550f6d"/>
<rect x="515.11" y="188.10" width="12.97" height="18.05" fill="#ba3655"/>
<rect x="526.78" y="188.10" width="12.97" height="18.05" fill="#cc4248"/>
<rect x="538.46" y="188.10" width="12.97" height="18.05" fill="#6a176e"/>
<rect x="550.13" y="188.10" width="12.97" height="18.05" fill="#ba3655"/>
<rect x="561.80" y="188.10" width="12.97" height="18.05" fill="#ba3655"/>
<rect x="573.48" y="188.10" width="12.97" height="18.05" fill="#7f1e6c"/>
<rect x="585.15" y="188.10" width="12.97" height="18.05" fill="#d54a41"/>
<rect x="596.83" y="188.10" width="11.67" height="18.05" fill="#ef6c23"/>
<rect x="340.00" y="204.85" width="12.97" height="16.75" fill="#61136e"/>
<rect x="351.67" y="204.85" width="12.97" height="16.75" fill="#f98c0a"/>
<rect x="363.35" y="204.85" width="12.97" height="16.75" fill="#ef6c23"/>
<rect x="375.02" y="204.85" width="12.97" height="16.75" fill="#f98c0a"/>
<rect x="386.70" y="204.85" width="12.97" height="16.75" fill="#ba3655"/>
<rect x="398.37" y="204.85" width="12.97" height="16.75" fill="#d54a41"/>
<rect x="410.04" y="204.85" width="12.97" height="16.75" fill="#f37819"/>
<rect x="421.72" y="204.85" width="12.97" height="16.75" fill="#000004"/>
<rect x="433.39" y="204.85" width="12.97" height="16.75" fill="#f98c0a"/>
<rect x="445.07" y="204.85" width="12.97" height="16.75" fill="#fca50a"/>
<rect x="456.74" y="204.85" width="12.97" height="16.75" fill="#f37819"/>
<rect x="468.41" y="204.85" width="12.97" height="16.75" fill="#d54a41"/>
<rect x="480.09" y="204.85" width="12.97" height="16.75" fill="#d54a41"/>
<rect x="491.76" y="204.85" width="12.97" height="16.75" fill="#000004"/>
<rect x="503.43" y="204.85" width="12.97" height="16.75" fill="#fb9906"/>
<rect x="515.11" y="204.85" width="12.97" height="16.75" fill="#ea632a"/>
<rect x="526.78" y="204.85" width="12.97" height="16.75" fill="#cc4248"/>
<rect x="538.46" y="204.85" width="12.97" height="16.75" fill="#ba3655"/>
<rect x="550.13" y="204.85" width="12.97" height="16.75" fill="#6a176e"/>
<rect x="561.80" y="204.85" width="12.97" height="16.75" fill="#ea632a"/>
<rect x="573.48" y="204.85" width="12.97" height="16.75" fill="#fb9906"/>
<rect x="585.15" y="204.85" width="12.97" height="16.75" fill="#c43c4e"/>
<rect x="596.83" y="204.85" width="11.67" height="16.75" fill="#751b6e"/>
<rect x="340.00" y="20.60" width="268.50" height="201.00" fill="none" stroke="#222" stroke-width="0.7"/>
<line x1="336.30" y1="28.98" x2="340.00" y2="28.98" stroke="#222" stroke-width="0.8"/>
<text x="333.40" y="31.38" font-size="8" text-anchor="end">CFI</text>
<line x1="336.30" y1="45.73" x2="340.00" y2="45.73" stroke="#222" stroke-width="0.8"/>
<text x="333.40" y="48.12" font-size="8" text-anchor="end">CFP</text>
<line x1="336.30" y1="62.48" x2="340.00" y2="62.48" stroke="#222" stroke-width="0.8"/>
<text x="333.40" y="64.88" font-size="8" text-anchor="end">EFI</text>
<line x1="336.30" y1="79.22" x2="340.00" y2="79.22" stroke="#222" stroke-width="0.8"/>
<text x="333.40" y="81.62" font-size="8" text-anchor="end">EFP</text>
<line x1="336.30" y1="95.97" x2="340.00" y2="95.97" stroke="#222" stroke-width="0.8"/>
<text x="333.40" y="98.38" font-size="8" text-anchor="end">LFI</text>
<line x1="336.30" y1="112.72" x2="340.00" y2="112.72" stroke="#222" stroke-width="0.8"/>
<text x="333.40" y="115.12" font-size="8" text-anchor="end">LFP</text>
<line x1="336.30" y1="129.47" x2="340.00" y2="129.47" stroke="#222" stroke-width="0.8"/>
<text x="333.40" y="131.88" font-size="8" text-anchor="end">MFI</text>
<line x1="336.30" y1="146.22" x2="340.00" y2="146.22" stroke="#222" stroke-width="0.8"/>
<text x="333.40" y="148.62" font-size="8" text-anchor="end">MFP</text>
<line x1="336.30" y1="162.97" x2="340.00" y2="162.97" stroke="#222" stroke-width="0.8"/>
<text x="333.40" y="165.38" font-size="8" text-anchor="end">NFI</text>
<line x1="336.30" y1="179.72" x2="340.00" y2="179.72" stroke="#222" stroke-width="0.8"/>
<text x="333.40" y="182.12" font-size="8" text-anchor="end">NFP</text>
<line x1="336.30" y1="196.47" x2="340.00" y2="196.47" stroke="#222" stroke-width="0.8"/>
<text x="333.40" y="198.88" font-size="8" text-anchor="end">WFI</text>
<line x1="336.30" y1="213.22" x2="340.00" y2="213.22" stroke="#222" stroke-width="0.8"/>
<text x="333.40" y="215.62" font-size="8" text-anchor="end">WFP</text>
<line x1="345.84" y1="221.60" x2="345.84" y2="225.70" stroke="#222" stroke-width="0.8"/>
<text transform="translate(350.24,232.50) rotate(-45)" font-size="5.85" font-style="italic" text-anchor="end">Agriculture</text>
<line x1="357.51" y1="221.60" x2="357.51" y2="225.70" stroke="#222" stroke-width="0.8"/>
<text transform="translate(361.91,232.50) rotate(-45)" font-size="5.85" font-style="italic" text-anchor="end">Construction</text>
<line x1="369.18" y1="221.60" x2="369.18" y2="225.70" stroke="#222" stroke-width="0.8"/>
<text transform="translate(373.58,232.50) rotate(-45)" font-size="5.85" font-style="italic" text-anchor="end">Education&amp;Health</text>
<line x1="380.86" y1="221.60" x2="380.86" y2="225.70" stroke="#222" stroke-width="0.8"/>
<text transform="translate(385.26,232.50) rotate(-45)" font-size="5.85" font-style="italic" text-anchor="end">Electrical&amp;machinery</text>
<line x1="392.53" y1="221.60" x2="392.53" y2="225.70" stroke="#222" stroke-width="0.8"/>
<text transform="translate(396.93,232.50) rotate(-45)" font-size="5.85" font-style="italic" text-anchor="end">Electricity_gas&amp;water</text>
<line x1="404.21" y1="221.60" x2="404.21" y2="225.70" stroke="#222" stroke-width="0.8"/>
<text transform="translate(408.61,232.50) rotate(-45)" font-size="5.85" font-style="italic" text-anchor="end">Finacial</text>
<line x1="415.88" y1="221.60" x2="415.88" y2="225.70" stroke="#222" stroke-width="0.8"/>
<text transform="translate(420.28,232.50) rotate(-45)" font-size="5.85" font-style="italic" text-anchor="end">Food beverages</text>
<line x1="427.55" y1="221.60" x2="427.55" y2="225.70" stroke="#222" stroke-width="0.8"/>
<text transform="translate(431.95,232.50) rotate(-45)" font-size="5.85" font-style="italic" text-anchor="end">Hotels&amp;restraurants</text>
<line x1="439.23" y1="221.60" x2="439.23" y2="225.70" stroke="#222" stroke-width="0.8"/>
<text transform="translate(443.63,232.50) rotate(-45)" font-size="5.85" font-style="italic" text-anchor="end">Maintenance&amp;repair</text>
<line x1="450.90" y1="221.60" x2="450.90" y2="225.70" stroke="#222" stroke-width="0.8"/>
<text transform="translate(455.30,232.50) rotate(-45)" font-size="5.85" font-style="italic" text-anchor="end">Metal</text>
<line x1="462.58" y1="221.60" x2="462.58" y2="225.70" stroke="#222" stroke-width="0.8"/>
<text transform="translate(466.98,232.50) rotate(-45)" font-size="5.85" font-style="italic" text-anchor="end">Mining</text>
<line x1="474.25" y1="221.60" x2="474.25" y2="225.70" stroke="#222" stroke-width="0.8"/>
<text transform="translate(478.65,232.50) rotate(-45)" font-size="5.85" font-style="italic" text-anchor="end">other manufacturing</text>
<line x1="485.92" y1="221.60" x2="485.92" y2="225.70" stroke="#222" stroke-width="0.8"/>
<text transform="translate(490.32,232.50) rotate(-45)" font-size="5.85" font-style="italic" text-anchor="end">Others</text>
<line x1="497.60" y1="221.60" x2="497.60" y2="225.70" stroke="#222" stroke-width="0.8"/>
<text transform="translate(502.00,232.50) rotate(-45)" font-size="5.85" font-style="italic" text-anchor="end">Petroleum</text>
<line x1="509.27" y1="221.60" x2="509.27" y2="225.70" stroke="#222" stroke-width="0.8"/>
<text transform="translate(513.67,232.50) rotate(-45)" font-size="5.85" font-style="italic" text-anchor="end">Post&amp;Tele</text>
<line x1="520.95" y1="221.60" x2="520.95" y2="225.70" stroke="#222" stroke-width="0.8"/>
<text transform="translate(525.35,232.50) rotate(-45)" font-size="5.85" font-style="italic" text-anchor="end">Private_households</text>
<line x1="532.62" y1="221.60" x2="532.62" y2="225.70" stroke="#222" stroke-width="0.8"/>
<text transform="translate(537.02,232.50) rotate(-45)" font-size="5.85" font-style="italic" text-anchor="end">Public administration</text>
<line x1="544.29" y1="221.60" x2="544.29" y2="225.70" stroke="#222" stroke-width="0.8"/>
<text transform="translate(548.69,232.50) rotate(-45)" font-size="5.85" font-style="italic" text-anchor="end">Recycling</text>
<line x1="555.97" y1="221.60" x2="555.97" y2="225.70" stroke="#222" stroke-width="0.8"/>
<text transform="translate(560.37,232.50) rotate(-45)" font-size="5.85" font-style="italic" text-anchor="end">Textiles</text>
<line x1="567.64" y1="221.60" x2="567.64" y2="225.70" stroke="#222" stroke-width="0.8"/>
<text transform="translate(572.04,232.50) rotate(-45)" font-size="5.85" font-style="italic" text-anchor="end">Transport</text>
<line x1="579.32" y1="221.60" x2="579.32" y2="225.70" stroke="#222" stroke-width="0.8"/>
<text transform="translate(583.72,232.50) rotate(-45)" font-size="5.85" font-style="italic" text-anchor="end">Transport equipment</text>
<line x1="590.99" y1="221.60" x2="590.99" y2="225.70" stroke="#222" stroke-width="0.8"/>
<text transform="translate(595.39,232.50) rotate(-45)" font-size="5.85" font-style="italic" text-anchor="end">Wholesale&amp;retail_trade</text>
<line x1="602.66" y1="221.60" x2="602.66" y2="225.70" stroke="#222" stroke-width="0.8"/>
<text transform="translate(607.06,232.50) rotate(-45)" font-size="5.85" font-style="italic" text-anchor="end">Wood&amp;paper</text>
</g>
<g class="s">
<text transform="translate(131.70,304.30) rotate(0.02)" font-size="15.2" style="stroke:none">Income UM</text>
<rect x="30.60" y="313.60" width="12.96" height="18.05" fill="#420a68"/>
<rect x="42.26" y="313.60" width="12.96" height="18.05" fill="#751b6e"/>
<rect x="53.91" y="313.60" width="12.96" height="18.05" fill="#f78212"/>
<rect x="65.57" y="313.60" width="12.96" height="18.05" fill="#d54a41"/>
<rect x="77.23" y="313.60" width="12.96" height="18.05" fill="#cc4248"/>
<rect x="88.88" y="313.60" width="12.96" height="18.05" fill="#f78212"/>
<rect x="100.54" y="313.60" width="12.96" height="18.05" fill="#ea632a"/>
<rect x="112.20" y="313.60" width="12.96" height="18.05" fill="#9d2964"/>
<rect x="123.85" y="313.60" width="12.96" height="18.05" fill="#cc4248"/>
<rect x="135.51" y="313.60" width="12.96" height="18.05" fill="#cc4248"/>
<rect x="147.17" y="313.60" width="12.96" height="18.05" fill="#7f1e6c"/>
<rect x="158.82" y="313.60" width="12.96" height="18.05" fill="#ba3655"/>
<rect x="170.48" y="313.60" width="12.96" height="18.05" fill="#ea632a"/>
<rect x="182.13" y="313.60" width="12.96" height="18.05" fill="#9d2964"/>
<rect x="193.79" y="313.60" width="12.96" height="18.05" fill="#e35933"/>
<rect x="205.45" y="313.60" width="12.96" height="18.05" fill="#d54a41"/>
<rect x="217.10" y="313.60" width="12.96" height="18.05" fill="#6a176e"/>
<rect x="228.76" y="313.60" width="12.96" height="18.05" fill="#fca50a"/>
<rect x="240.42" y="313.60" width="12.96" height="18.05" fill="#932667"/>
<rect x="252.07" y="313.60" width="12.96" height="18.05" fill="#ba3655"/>
<rect x="263.73" y="313.60" width="12.96" height="18.05" fill="#f98c0a"/>
<rect x="275.39" y="313.60" width="12.96" height="18.05" fill="#b1325a"/>
<rect x="287.04" y="313.60" width="11.66" height="18.05" fill="#cc4248"/>
<rect x="30.60" y="330.35" width="12.96" height="18.05" fill="#9d2964"/>
<rect x="42.26" y="330.35" width="12.96" height="18.05" fill="#a82e5f"/>
<rect x="53.91" y="330.35" width="12.96" height="18.05" fill="#1f0c48"/>
<rect x="65.57" y="330.35" width="12.96" height="18.05" fill="#0e092b"/>
<rect x="77.23" y="330.35" width="12.96" height="18.05" fill="#b1325a"/>
<rect x="88.88" y="330.35" width="12.96" height="18.05" fill="#6a176e"/>
<rect x="100.54" y="330.35" width="12.96" height="18.05" fill="#360961"/>
<rect x="112.20" y="330.35" width="12.96" height="18.05" fill="#550f6d"/>
<rect x="123.85" y="330.35" width="12.96" height="18.05" fill="#6a176e"/>
<rect x="135.51" y="330.35" width="12.96" height="18.05" fill="#e35933"/>
<rect x="147.17" y="330.35" width="12.96" height="18.05" fill="#550f6d"/>
<rect x="158.82" y="330.35" width="12.96" height="18.05" fill="#a82e5f"/>
<rect x="170.48" y="330.35" width="12.96" height="18.05" fill="#a82e5f"/>
<rect x="182.13" y="330.35" width="12.96" height="18.05" fill="#b1325a"/>
<rect x="193.79" y="330.35" width="12.96" height="18.05" fill="#9d2964"/>
<rect x="205.45" y="330.35" width="12.96" height="18.05" fill="#ba3655"/>
<rect x="217.10" y="330.35" width="12.96" height="18.05" fill="#420a68"/>
<rect x="228.76" y="330.35" width="12.96" height="18.05" fill="#a82e5f"/>
<rect x="240.42" y="330.35" width="12.96" height="18.05" fill="#a82e5f"/>
<rect x="252.07" y="330.35" width="12.96" height="18.05" fill="#cc4248"/>
<rect x="263.73" y="330.35" width="12.96" height="18.05" fill="#f37819"/>
<rect x="275.39" y="330.35" width="12.96" height="18.05" fill="#7f1e6c"/>
<rect x="287.04" y="330.35" width="11.66" height="18.05" fill="#b1325a"/>
<rect x="30.60" y="347.10" width="12.96" height="18.05" fill="#dd513a"/>
<rect x="42.26" y="347.10" width="12.96" height="18.05" fill="#dd513a"/>
<rect x="53.91" y="347.10" width="12.96" height="18.05" fill="#c43c4e"/>
<rect x="65.57" y="347.10" width="12.96" height="18.05" fill="#f37819"/>
<rect x="77.23" y="347.10" width="12.96" height="18.05" fill="#fca50a"/>
<rect x="88.88" y="347.10" width="12.96" height="18.05" fill="#c43c4e"/>
<rect x="100.54" y="347.10" width="12.96" height="18.05" fill="#f37819"/>
<rect x="112.20" y="347.10" width="12.96" height="18.05" fill="#ef6c23"/>
<rect x="123.85" y="347.10" width="12.96" height="18.05" fill="#b1325a"/>
<rect x="135.51" y="347.10" width="12.96" height="18.05" fill="#e35933"/>
<rect x="147.17" y="347.10" width="12.96" height="18.05" fill="#d54a41"/>
<rect x="158.82" y="347.10" width="12.96" height="18.05" fill="#f78212"/>
<rect x="170.48" y="347.10" width="12.96" height="18.05" fill="#d54a41"/>
<rect x="182.13" y="347.10" width="12.96" height="18.05" fill="#7f1e6c"/>
<rect x="193.79" y="347.10" width="12.96" height="18.05" fill="#000004"/>
<rect x="205.45" y="347.10" width="12.96" height="18.05" fill="#cc4248"/>
<rect x="217.10" y="347.10" width="12.96" height="18.05" fill="#fcb216"/>
<rect x="228.76" y="347.10" width="12.96" height="18.05" fill="#fcb216"/>
<rect x="240.42" y="347.10" width="12.96" height="18.05" fill="#e35933"/>
<rect x="252.07" y="347.10" width="12.96" height="18.05" fill="#ef6c23"/>
<rect x="263.73" y="347.10" width="12.96" height="18.05" fill="#f98c0a"/>
<rect x="275.39" y="347.10" width="12.96" height="18.05" fill="#c43c4e"/>
<rect x="287.04" y="347.10" width="11.66" height="18.05" fill="#d54a41"/>
<rect x="30.60" y="363.85" width="12.96" height="18.05" fill="#fb9906"/>
<rect x="42.26" y="363.85" width="12.96" height="18.05" fill="#e35933"/>
<rect x="53.91" y="363.85" width="12.96" height="18.05" fill="#b1325a"/>
<rect x="65.57" y="363.85" width="12.96" height="18.05" fill="#b1325a"/>
<rect x="77.23" y="363.85" width="12.96" height="18.05" fill="#f78212"/>
<rect x="88.88" y="363.85" width="12.96" height="18.05" fill="#751b6e"/>
<rect x="100.54" y="363.85" width="12.96" height="18.05" fill="#fb9906"/>
<rect x="112.20" y="363.85" width="12.96" height="18.05" fill="#fca50a"/>
<rect x="123.85" y="363.85" width="12.96" height="18.05" fill="#d54a41"/>
<rect x="135.51" y="363.85" width="12.96" height="18.05" fill="#e35933"/>
<rect x="147.17" y="363.85" width="12.96" height="18.05" fill="#ea632a"/>
<rect x="158.82" y="363.85" width="12.96" height="18.05" fill="#f78212"/>
<rect x="170.48" y="363.85" width="12.96" height="18.05" fill="#dd513a"/>
<rect x="182.13" y="363.85" width="12.96" height="18.05" fill="#f78212"/>
<rect x="193.79" y="363.85" width="12.96" height="18.05" fill="#f37819"/>
<rect x="205.45" y="363.85" width="12.96" height="18.05" fill="#f78212"/>
<rect x="217.10" y="363.85" width="12.96" height="18.05" fill="#ea632a"/>
<rect x="228.76" y="363.85" width="12.96" height="18.05" fill="#f78212"/>
<rect x="240.42" y="363.85" width="12.96" height="18.05" fill="#f37819"/>
<rect x="252.07" y="363.85" width="12.96" height="18.05" fill="#fb9906"/>
<rect x="263.73" y="363.85" width="12.96" height="18.05" fill="#e35933"/>
<rect x="275.39" y="363.85" width="12.96" height="18.05" fill="#550f6d"/>
<rect x="287.04" y="363.85" width="11.66" height="18.05" fill="#e35933"/>
<rect x="30.60" y="380.60" width="12.96" height="18.05" fill="#fcb216"/>
<rect x="42.26" y="380.60" width="12.96" height="18.05" fill="#fbbe23"/>
<rect x="53.91" y="380.60" width="12.96" height="18.05" fill="#f78212"/>
<rect x="65.57" y="380.60" width="12.96" height="18.05" fill="#fcb216"/>
<rect x="77.23" y="380.60" width="12.96" height="18.05" fill="#e35933"/>
<rect x="88.88" y="380.60" width="12.96" height="18.05" fill="#e35933"/>
<rect x="100.54" y="380.60" width="12.96" height="18.05" fill="#fb9906"/>
<rect x="112.20" y="380.60" width="12.96" height="18.05" fill="#f78212"/>
<rect x="123.85" y="380.60" width="12.96" height="18.05" fill="#fb9906"/>
<rect x="135.51" y="380.60" width="12.96" height="18.05" fill="#f9c932"/>
<rect x="147.17" y="380.60" width="12.96" height="18.05" fill="#cc4248"/>
<rect x="158.82" y="380.60" width="12.96" height="18.05" fill="#fca50a"/>
<rect x="170.48" y="380.60" width="12.96" height="18.05" fill="#fb9906"/>
<rect x="182.13" y="380.60" width="12.96" height="18.05" fill="#f78212"/>
<rect x="193.79" y="380.60" width="12.96" height="18.05" fill="#e35933"/>
<rect x="205.45" y="380.60" width="12.96" height="18.05" fill="#fbbe23"/>
<rect x="217.10" y="380.60" width="12.96" height="18.05" fill="#fcb216"/>
<rect x="228.76" y="380.60" width="12.96" height="18.05" fill="#f9c932"/>
<rect x="240.42" y="380.60" width="12.96" height="18.05" fill="#f6d746"/>
<rect x="252.07" y="380.60" width="12.96" height="18.05" fill="#fb9906"/>
<rect x="263.73" y="380.60" width="12.96" height="18.05" fill="#fcb216"/>
<rect x="275.39" y="380.60" width="12.96" height="18.05" fill="#f78212"/>
<rect x="287.04" y="380.60" width="11.66" height="18.05" fill="#fbbe23"/>
<rect x="30.60" y="397.35" width="12.96" height="18.05" fill="#751b6e"/>
<rect x="42.26" y="397.35" width="12.96" height="18.05" fill="#d54a41"/>
<rect x="53.91" y="397.35" width="12.96" height="18.05" fill="#dd513a"/>
<rect x="65.57" y="397.35" width="12.96" height="18.05" fill="#fcb216"/>
<rect x="77.23" y="397.35" width="12.96" height="18.05" fill="#550f6d"/>
<rect x="88.88" y="397.35" width="12.96" height="18.05" fill="#dd513a"/>
<rect x="100.54" y="397.35" width="12.96" height="18.05" fill="#dd513a"/>
<rect x="112.20" y="397.35" width="12.96" height="18.05" fill="#9d2964"/>
<rect x="123.85" y="397.35" width="12.96" height="18.05" fill="#9d2964"/>
<rect x="135.51" y="397.35" width="12.96" height="18.05" fill="#fb9906"/>
<rect x="147.17" y="397.35" width="12.96" height="18.05" fill="#6a176e"/>
<rect x="158.82" y="397.35" width="12.96" height="18.05" fill="#e35933"/>
<rect x="170.48" y="397.35" width="12.96" height="18.05" fill="#d54a41"/>
<rect x="182.13" y="397.35" width="12.96" height="18.05" fill="#d54a41"/>
<rect x="193.79" y="397.35" width="12.96" height="18.05" fill="#751b6e"/>
<rect x="205.45" y="397.35" width="12.96" height="18.05" fill="#f78212"/>
<rect x="217.10" y="397.35" width="12.96" height="18.05" fill="#f98c0a"/>
<rect x="228.76" y="397.35" width="12.96" height="18.05" fill="#f37819"/>
<rect x="240.42" y="397.35" width="12.96" height="18.05" fill="#4c0c6b"/>
<rect x="252.07" y="397.35" width="12.96" height="18.05" fill="#a82e5f"/>
<rect x="263.73" y="397.35" width="12.96" height="18.05" fill="#f78212"/>
<rect x="275.39" y="397.35" width="12.96" height="18.05" fill="#fca50a"/>
<rect x="287.04" y="397.35" width="11.66" height="18.05" fill="#7f1e6c"/>
<rect x="30.60" y="414.10" width="12.96" height="18.05" fill="#e35933"/>
<rect x="42.26" y="414.10" width="12.96" height="18.05" fill="#cc4248"/>
<rect x="53.91" y="414.10" width="12.96" height="18.05" fill="#e35933"/>
<rect x="65.57" y="414.10" width="12.96" height="18.05" fill="#dd513a"/>
<rect x="77.23" y="414.10" width="12.96" height="18.05" fill="#ba3655"/>
<rect x="88.88" y="414.10" width="12.96" height="18.05" fill="#9d2964"/>
<rect x="100.54" y="414.10" width="12.96" height="18.05" fill="#a82e5f"/>
<rect x="112.20" y="414.10" width="12.96" height="18.05" fill="#e35933"/>
<rect x="123.85" y="414.10" width="12.96" height="18.05" fill="#9d2964"/>
<rect x="135.51" y="414.10" width="12.96" height="18.05" fill="#9d2964"/>
<rect x="147.17" y="414.10" width="12.96" height="18.05" fill="#ba3655"/>
<rect x="158.82" y="414.10" width="12.96" height="18.05" fill="#cc4248"/>
<rect x="170.48" y="414.10" width="12.96" height="18.05" fill="#932667"/>
<rect x="182.13" y="414.10" width="12.96" height="18.05" fill="#ef6c23"/>
<rect x="193.79" y="414.10" width="12.96" height="18.05" fill="#ef6c23"/>
<rect x="205.45" y="414.10" width="12.96" height="18.05" fill="#9d2964"/>
<rect x="217.10" y="414.10" width="12.96" height="18.05" fill="#b1325a"/>
<rect x="228.76" y="414.10" width="12.96" height="18.05" fill="#fb9906"/>
<rect x="240.42" y="414.10" width="12.96" height="18.05" fill="#dd513a"/>
<rect x="252.07" y="414.10" width="12.96" height="18.05" fill="#f78212"/>
<rect x="263.73" y="414.10" width="12.96" height="18.05" fill="#dd513a"/>
<rect x="275.39" y="414.10" width="12.96" height="18.05" fill="#c43c4e"/>
<rect x="287.04" y="414.10" width="11.66" height="18.05" fill="#cc4248"/>
<rect x="30.60" y="430.85" width="12.96" height="18.05" fill="#02020e"/>
<rect x="42.26" y="430.85" width="12.96" height="18.05" fill="#1f0c48"/>
<rect x="53.91" y="430.85" width="12.96" height="18.05" fill="#d54a41"/>
<rect x="65.57" y="430.85" width="12.96" height="18.05" fill="#420a68"/>
<rect x="77.23" y="430.85" width="12.96" height="18.05" fill="#550f6d"/>
<rect x="88.88" y="430.85" width="12.96" height="18.05" fill="#420a68"/>
<rect x="100.54" y="430.85" width="12.96" height="18.05" fill="#000004"/>
<rect x="112.20" y="430.85" width="12.96" height="18.05" fill="#0e092b"/>
<rect x="123.85" y="430.85" width="12.96" height="18.05" fill="#c43c4e"/>
<rect x="135.51" y="430.85" width="12.96" height="18.05" fill="#fca50a"/>
<rect x="147.17" y="430.85" width="12.96" height="18.05" fill="#e35933"/>
<rect x="158.82" y="430.85" width="12.96" height="18.05" fill="#b1325a"/>
<rect x="170.48" y="430.85" width="12.96" height="18.05" fill="#000004"/>
<rect x="182.13" y="430.85" width="12.96" height="18.05" fill="#d54a41"/>
<rect x="193.79" y="430.85" width="12.96" height="18.05" fill="#7f1e6c"/>
<rect x="205.45" y="430.85" width="12.96" height="18.05" fill="#dd513a"/>
<rect x="217.10" y="430.85" width="12.96" height="18.05" fill="#b1325a"/>
<rect x="228.76" y="430.85" width="12.96" height="18.05" fill="#88226a"/>
<rect x="240.42" y="430.85" width="12.96" height="18.05" fill="#1f0c48"/>
<rect x="252.07" y="430.85" width="12.96" height="18.05" fill="#360961"/>
<rect x="263.73" y="430.85" width="12.96" height="18.05" fill="#ba3655"/>
<rect x="275.39" y="430.85" width="12.96" height="18.05" fill="#550f6d"/>
<rect x="287.04" y="430.85" width="11.66" height="18.05" fill="#b1325a"/>
<rect x="30.60" y="447.60" width="12.96" height="18.05" fill="#e35933"/>
<rect x="42.26" y="447.60" width="12.96" height="18.05" fill="#cc4248"/>
<rect x="53.91" y="447.60" width="12.96" height="18.05" fill="#f78212"/>
<rect x="65.57" y="447.60" width="12.96" height="18.05" fill="#a82e5f"/>
<rect x="77.23" y="447.60" width="12.96" height="18.05" fill="#d54a41"/>
<rect x="88.88" y="447.60" width="12.96" height="18.05" fill="#b1325a"/>
<rect x="100.54" y="447.60" width="12.96" height="18.05" fill="#fb9906"/>
<rect x="112.20" y="447.60" width="12.96" height="18.05" fill="#ba3655"/>
<rect x="123.85" y="447.60" width="12.96" height="18.05" fill="#f78212"/>
<rect x="135.51" y="447.60" width="12.96" height="18.05" fill="#ea632a"/>
<rect x="147.17" y="447.60" width="12.96" height="18.05" fill="#fb9906"/>
<rect x="158.82" y="447.60" width="12.96" height="18.05" fill="#fca50a"/>
<rect x="170.48" y="447.60" width="12.96" height="18.05" fill="#e35933"/>
<rect x="182.13" y="447.60" width="12.96" height="18.05" fill="#b1325a"/>
<rect x="193.79" y="447.60" width="12.96" height="18.05" fill="#751b6e"/>
<rect x="205.45" y="447.60" width="12.96" height="18.05" fill="#f78212"/>
<rect x="217.10" y="447.60" width="12.96" height="18.05" fill="#cc4248"/>
<rect x="228.76" y="447.60" width="12.96" height="18.05" fill="#fb9906"/>
<rect x="240.42" y="447.60" width="12.96" height="18.05" fill="#e35933"/>
<rect x="252.07" y="447.60" width="12.96" height="18.05" fill="#d54a41"/>
<rect x="263.73" y="447.60" width="12.96" height="18.05" fill="#d54a41"/>
<rect x="275.39" y="447.60" width="12.96" height="18.05" fill="#d54a41"/>
<rect x="287.04" y="447.60" width="11.66" height="18.05" fill="#e35933"/>
<rect x="30.60" y="464.35" width="12.96" height="18.05" fill="#000004"/>
<rect x="42.26" y="464.35" width="12.96" height="18.05" fill="#b1325a"/>
<rect x="53.91" y="464.35" width="12.96" height="18.05" fill="#dd513a"/>
<rect x="65.57" y="464.35" width="12.96" height="18.05" fill="#f78212"/>
<rect x="77.23" y="464.35" width="12.96" height="18.05" fill="#d54a41"/>
<rect x="88.88" y="464.35" width="12.96" height="18.05" fill="#c43c4e"/>
<rect x="100.54" y="464.35" width="12.96" height="18.05" fill="#000004"/>
<rect x="112.20" y="464.35" width="12.96" height="18.05" fill="#420a68"/>
<rect x="123.85" y="464.35" width="12.96" height="18.05" fill="#b1325a"/>
<rect x="135.51" y="464.35" width="12.96" height="18.05" fill="#02020e"/>
<rect x="147.17" y="464.35" width="12.96" height="18.05" fill="#dd513a"/>
<rect x="158.82" y="464.35" width="12.96" height="18.05" fill="#61136e"/>
<rect x="170.48" y="464.35" width="12.96" height="18.05" fill="#6a176e"/>
<rect x="182.13" y="464.35" width="12.96" height="18.05" fill="#6a176e"/>
<rect x="193.79" y="464.35" width="12.96" height="18.05" fill="#420a68"/>
<rect x="205.45" y="464.35" width="12.96" height="18.05" fill="#f37819"/>
<rect x="217.10" y="464.35" width="12.96" height="18.05" fill="#dd513a"/>
<rect x="228.76" y="464.35" width="12.96" height="18.05" fill="#d54a41"/>
<rect x="240.42" y="464.35" width="12.96" height="18.05" fill="#360961"/>
<rect x="252.07" y="464.35" width="12.96" height="18.05" fill="#d54a41"/>
<rect x="263.73" y="464.35" width="12.96" height="18.05" fill="#f78212"/>
<rect x="275.39" y="464.35" width="12.96" height="18.05" fill="#2b0b57"/>
<rect x="287.04" y="464.35" width="11.66" height="18.05" fill="#cc4248"/>
<rect x="30.60" y="481.10" width="12.96" height="18.05" fill="#932667"/>
<rect x="42.26" y="481.10" width="12.96" height="18.05" fill="#fb9906"/>
<rect x="53.91" y="481.10" width="12.96" height="18.05" fill="#e35933"/>
<rect x="65.57" y="481.10" width="12.96" height="18.05" fill="#c43c4e"/>
<rect x="77.23" y="481.10" width="12.96" height="18.05" fill="#fca50a"/>
<rect x="88.88" y="481.10" width="12.96" height="18.05" fill="#ba3655"/>
<rect x="100.54" y="481.10" width="12.96" height="18.05" fill="#fb9906"/>
<rect x="112.20" y="481.10" width="12.96" height="18.05" fill="#932667"/>
<rect x="123.85" y="481.10" width="12.96" height="18.05" fill="#550f6d"/>
<rect x="135.51" y="481.10" width="12.96" height="18.05" fill="#ea632a"/>
<rect x="147.17" y="481.10" width="12.96" height="18.05" fill="#c43c4e"/>
<rect x="158.82" y="481.10" width="12.96" height="18.05" fill="#fb9906"/>
<rect x="170.48" y="481.10" width="12.96" height="18.05" fill="#550f6d"/>
<rect x="182.13" y="481.10" width="12.96" height="18.05" fill="#fb9906"/>
<rect x="193.79" y="481.10" width="12.96" height="18.05" fill="#d54a41"/>
<rect x="205.45" y="481.10" width="12.96" height="18.05" fill="#b1325a"/>
<rect x="217.10" y="481.10" width="12.96" height="18.05" fill="#fb9906"/>
<rect x="228.76" y="481.10" width="12.96" height="18.05" fill="#360961"/>
<rect x="240.42" y="481.10" width="12.96" height="18.05" fill="#fb9906"/>
<rect x="252.07" y="481.10" width="12.96" height="18.05" fill="#ef6c23"/>
<rect x="263.73" y="481.10" width="12.96" height="18.05" fill="#f78212"/>
<rect x="275.39" y="481.10" width="12.96" height="18.05" fill="#ef6c23"/>
<rect x="287.04" y="481.10" width="11.66" height="18.05" fill="#ef6c23"/>
<rect x="30.60" y="497.85" width="12.96" height="16.75" fill="#4c0c6b"/>
<rect x="42.26" y="497.85" width="12.96" height="16.75" fill="#e35933"/>
<rect x="53.91" y="497.85" width="12.96" height="16.75" fill="#420a68"/>
<rect x="65.57" y="497.85" width="12.96" height="16.75" fill="#fb9906"/>
<rect x="77.23" y="497.85" width="12.96" height="16.75" fill="#ba3655"/>
<rect x="88.88" y="497.85" width="12.96" height="16.75" fill="#ea632a"/>
<rect x="100.54" y="497.85" width="12.96" height="16.75" fill="#fb9906"/>
<rect x="112.20" y="497.85" width="12.96" height="16.75" fill="#751b6e"/>
<rect x="123.85" y="497.85" width="12.96" height="16.75" fill="#d54a41"/>
<rect x="135.51" y="497.85" width="12.96" height="16.75" fill="#f37819"/>
<rect x="147.17" y="497.85" width="12.96" height="16.75" fill="#ef6c23"/>
<rect x="158.82" y="497.85" width="12.96" height="16.75" fill="#cc4248"/>
<rect x="170.48" y="497.85" width="12.96" height="16.75" fill="#420a68"/>
<rect x="182.13" y="497.85" width="12.96" height="16.75" fill="#ea632a"/>
<rect x="193.79" y="497.85" width="12.96" height="16.75" fill="#d54a41"/>
<rect x="205.45" y="497.85" width="12.96" height="16.75" fill="#550f6d"/>
<rect x="217.10" y="497.85" width="12.96" height="16.75" fill="#e35933"/>
<rect x="228.76" y="497.85" width="12.96" height="16.75" fill="#c43c4e"/>
<rect x="240.42" y="497.85" width="12.96" height="16.75" fill="#000004"/>
<rect x="252.07" y="497.85" width="12.96" height="16.75" fill="#751b6e"/>
<rect x="263.73" y="497.85" width="12.96" height="16.75" fill="#f78212"/>
<rect x="275.39" y="497.85" width="12.96" height="16.75" fill="#ba3655"/>
<rect x="287.04" y="497.85" width="11.66" height="16.75" fill="#ef6c23"/>
<rect x="30.60" y="313.60" width="268.10" height="201.00" fill="none" stroke="#222" stroke-width="0.7"/>
<line x1="26.90" y1="321.98" x2="30.60" y2="321.98" stroke="#222" stroke-width="0.8"/>
<text x="24.00" y="324.38" font-size="8" text-anchor="end">CFI</text>
<line x1="26.90" y1="338.73" x2="30.60" y2="338.73" stroke="#222" stroke-width="0.8"/>
<text x="24.00" y="341.12" font-size="8" text-anchor="end">CFP</text>
<line x1="26.90" y1="355.48" x2="30.60" y2="355.48" stroke="#222" stroke-width="0.8"/>
<text x="24.00" y="357.88" font-size="8" text-anchor="end">EFI</text>
<line x1="26.90" y1="372.23" x2="30.60" y2="372.23" stroke="#222" stroke-width="0.8"/>
<text x="24.00" y="374.62" font-size="8" text-anchor="end">EFP</text>
<line x1="26.90" y1="388.98" x2="30.60" y2="388.98" stroke="#222" stroke-width="0.8"/>
<text x="24.00" y="391.38" font-size="8" text-anchor="end">LFI</text>
<line x1="26.90" y1="405.73" x2="30.60" y2="405.73" stroke="#222" stroke-width="0.8"/>
<text x="24.00" y="408.12" font-size="8" text-anchor="end">LFP</text>
<line x1="26.90" y1="422.48" x2="30.60" y2="422.48" stroke="#222" stroke-width="0.8"/>
<text x="24.00" y="424.88" font-size="8" text-anchor="end">MFI</text>
<line x1="26.90" y1="439.23" x2="30.60" y2="439.23" stroke="#222" stroke-width="0.8"/>
<text x="24.00" y="441.62" font-size="8" text-anchor="end">MFP</text>
<line x1="26.90" y1="455.98" x2="30.60" y2="455.98" stroke="#222" stroke-width="0.8"/>
<text x="24.00" y="458.38" font-size="8" text-anchor="end">NFI</text>
<line x1="26.90" y1="472.73" x2="30.60" y2="472.73" stroke="#222" stroke-width="0.8"/>
<text x="24.00" y="475.12" font-size="8" text-anchor="end">NFP</text>
<line x1="26.90" y1="489.48" x2="30.60" y2="489.48" stroke="#222" stroke-width="0.8"/>
<text x="24.00" y="491.88" font-size="8" text-anchor="end">WFI</text>
<line x1="26.90" y1="506.23" x2="30.60" y2="506.23" stroke="#222" stroke-width="0.8"/>
<text x="24.00" y="508.62" font-size="8" text-anchor="end">WFP</text>
<line x1="36.43" y1="514.60" x2="36.43" y2="518.70" stroke="#222" stroke-width="0.8"/>
<text transform="translate(40.83,525.50) rotate(-45)" font-size="5.85" font-style="italic" text-anchor="end">Agriculture</text>
<line x1="48.08" y1="514.60" x2="48.08" y2="518.70" stroke="#222" stroke-width="0.8"/>
<text transform="translate(52.48,525.50) rotate(-45)" font-size="5.85" font-style="italic" text-anchor="end">Construction</text>
<line x1="59.74" y1="514.60" x2="59.74" y2="518.70" stroke="#222" stroke-width="0.8"/>
<text transform="translate(64.14,525.50) rotate(-45)" font-size="5.85" font-style="italic" text-anchor="end">Education&amp;Health</text>
<line x1="71.40" y1="514.60" x2="71.40" y2="518.70" stroke="#222" stroke-width="0.8"/>
<text transform="translate(75.80,525.50) rotate(-45)" font-size="5.85" font-style="italic" text-anchor="end">Electrical&amp;machinery</text>
<line x1="83.05" y1="514.60" x2="83.05" y2="518.70" stroke="#222" stroke-width="0.8"/>
<text transform="translate(87.45,525.50) rotate(-45)" font-size="5.85" font-style="italic" text-anchor="end">Electricity_gas&amp;water</text>
<line x1="94.71" y1="514.60" x2="94.71" y2="518.70" stroke="#222" stroke-width="0.8"/>
<text transform="translate(99.11,525.50) rotate(-45)" font-size="5.85" font-style="italic" text-anchor="end">Finacial</text>
<line x1="106.37" y1="514.60" x2="106.37" y2="518.70" stroke="#222" stroke-width="0.8"/>
<text transform="translate(110.77,525.50) rotate(-45)" font-size="5.85" font-style="italic" text-anchor="end">Food beverages</text>
<line x1="118.02" y1="514.60" x2="118.02" y2="518.70" stroke="#222" stroke-width="0.8"/>
<text transform="translate(122.42,525.50) rotate(-45)" font-size="5.85" font-style="italic" text-anchor="end">Hotels&amp;restraurants</text>
<line x1="129.68" y1="514.60" x2="129.68" y2="518.70" stroke="#222" stroke-width="0.8"/>
<text transform="translate(134.08,525.50) rotate(-45)" font-size="5.85" font-style="italic" text-anchor="end">Maintenance&amp;repair</text>
<line x1="141.34" y1="514.60" x2="141.34" y2="518.70" stroke="#222" stroke-width="0.8"/>
<text transform="translate(145.74,525.50) rotate(-45)" font-size="5.85" font-style="italic" text-anchor="end">Metal</text>
<line x1="152.99" y1="514.60" x2="152.99" y2="518.70" stroke="#222" stroke-width="0.8"/>
<text transform="translate(157.39,525.50) rotate(-45)" font-size="5.85" font-style="italic" text-anchor="end">Mining</text>
<line x1="164.65" y1="514.60" x2="164.65" y2="518.70" stroke="#222" stroke-width="0.8"/>
<text transform="translate(169.05,525.50) rotate(-45)" font-size="5.85" font-style="italic" text-anchor="end">other manufacturing</text>
<line x1="176.31" y1="514.60" x2="176.31" y2="518.70" stroke="#222" stroke-width="0.8"/>
<text transform="translate(180.71,525.50) rotate(-45)" font-size="5.85" font-style="italic" text-anchor="end">Others</text>
<line x1="187.96" y1="514.60" x2="187.96" y2="518.70" stroke="#222" stroke-width="0.8"/>
<text transform="translate(192.36,525.50) rotate(-45)" font-size="5.85" font-style="italic" text-anchor="end">Petroleum</text>
<line x1="199.62" y1="514.60" x2="199.62" y2="518.70" stroke="#222" stroke-width="0.8"/>
<text transform="translate(204.02,525.50) rotate(-45)" font-size="5.85" font-style="italic" text-anchor="end">Post&amp;Tele</text>
<line x1="211.28" y1="514.60" x2="211.28" y2="518.70" stroke="#222" stroke-width="0.8"/>
<text transform="translate(215.68,525.50) rotate(-45)" font-size="5.85" font-style="italic" text-anchor="end">Private_households</text>
<line x1="222.93" y1="514.60" x2="222.93" y2="518.70" stroke="#222" stroke-width="0.8"/>
<text transform="translate(227.33,525.50) rotate(-45)" font-size="5.85" font-style="italic" text-anchor="end">Public administration</text>
<line x1="234.59" y1="514.60" x2="234.59" y2="518.70" stroke="#222" stroke-width="0.8"/>
<text transform="translate(238.99,525.50) rotate(-45)" font-size="5.85" font-style="italic" text-anchor="end">Recycling</text>
<line x1="246.25" y1="514.60" x2="246.25" y2="518.70" stroke="#222" stroke-width="0.8"/>
<text transform="translate(250.65,525.50) rotate(-45)" font-size="5.85" font-style="italic" text-anchor="end">Textiles</text>
<line x1="257.90" y1="514.60" x2="257.90" y2="518.70" stroke="#222" stroke-width="0.8"/>
<text transform="translate(262.30,525.50) rotate(-45)" font-size="5.85" font-style="italic" text-anchor="end">Transport</text>
<line x1="269.56" y1="514.60" x2="269.56" y2="518.70" stroke="#222" stroke-width="0.8"/>
<text transform="translate(273.96,525.50) rotate(-45)" font-size="5.85" font-style="italic" text-anchor="end">Transport equipment</text>
<line x1="281.22" y1="514.60" x2="281.22" y2="518.70" stroke="#222" stroke-width="0.8"/>
<text transform="translate(285.62,525.50) rotate(-45)" font-size="5.85" font-style="italic" text-anchor="end">Wholesale&amp;retail_trade</text>
<line x1="292.87" y1="514.60" x2="292.87" y2="518.70" stroke="#222" stroke-width="0.8"/>
<text transform="translate(297.27,525.50) rotate(-45)" font-size="5.85" font-style="italic" text-anchor="end">Wood&amp;paper</text>
</g>
<g class="s">
<text transform="translate(446.80,304.30) rotate(0.02)" font-size="15.2" style="stroke:none">Income H</text>
<rect x="340.00" y="313.60" width="12.97" height="18.05" fill="#f37819"/>
<rect x="351.67" y="313.60" width="12.97" height="18.05" fill="#f78212"/>
<rect x="363.35" y="313.60" width="12.97" height="18.05" fill="#ea632a"/>
<rect x="375.02" y="313.60" width="12.97" height="18.05" fill="#f98c0a"/>
<rect x="386.70" y="313.60" width="12.97" height="18.05" fill="#ea632a"/>
<rect x="398.37" y="313.60" width="12.97" height="18.05" fill="#e35933"/>
<rect x="410.04" y="313.60" width="12.97" height="18.05" fill="#a82e5f"/>
<rect x="421.72" y="313.60" width="12.97" height="18.05" fill="#751b6e"/>
<rect x="433.39" y="313.60" width="12.97" height="18.05" fill="#c43c4e"/>
<rect x="445.07" y="313.60" width="12.97" height="18.05" fill="#fcb216"/>
<rect x="456.74" y="313.60" width="12.97" height="18.05" fill="#c43c4e"/>
<rect x="468.41" y="313.60" width="12.97" height="18.05" fill="#ea632a"/>
<rect x="480.09" y="313.60" width="12.97" height="18.05" fill="#fcb216"/>
<rect x="491.76" y="313.60" width="12.97" height="18.05" fill="#dd513a"/>
<rect x="503.43" y="313.60" width="12.97" height="18.05" fill="#fca50a"/>
<rect x="515.11" y="313.60" width="12.97" height="18.05" fill="#dd513a"/>
<rect x="526.78" y="313.60" width="12.97" height="18.05" fill="#6a176e"/>
<rect x="538.46" y="313.60" width="12.97" height="18.05" fill="#ea632a"/>
<rect x="550.13" y="313.60" width="12.97" height="18.05" fill="#fb9906"/>
<rect x="561.80" y="313.60" width="12.97" height="18.05" fill="#e35933"/>
<rect x="573.48" y="313.60" width="12.97" height="18.05" fill="#f98c0a"/>
<rect x="585.15" y="313.60" width="12.97" height="18.05" fill="#f78212"/>
<rect x="596.83" y="313.60" width="11.67" height="18.05" fill="#d54a41"/>
<rect x="340.00" y="330.35" width="12.97" height="18.05" fill="#02020e"/>
<rect x="351.67" y="330.35" width="12.97" height="18.05" fill="#550f6d"/>
<rect x="363.35" y="330.35" width="12.97" height="18.05" fill="#cc4248"/>
<rect x="375.02" y="330.35" width="12.97" height="18.05" fill="#f78212"/>
<rect x="386.70" y="330.35" width="12.97" height="18.05" fill="#f78212"/>
<rect x="398.37" y="330.35" width="12.97" height="18.05" fill="#f78212"/>
<rect x="410.04" y="330.35" width="12.97" height="18.05" fill="#000004"/>
<rect x="421.72" y="330.35" width="12.97" height="18.05" fill="#f37819"/>
<rect x="433.39" y="330.35" width="12.97" height="18.05" fill="#dd513a"/>
<rect x="445.07" y="330.35" width="12.97" height="18.05" fill="#7f1e6c"/>
<rect x="456.74" y="330.35" width="12.97" height="18.05" fill="#cc4248"/>
<rect x="468.41" y="330.35" width="12.97" height="18.05" fill="#932667"/>
<rect x="480.09" y="330.35" width="12.97" height="18.05" fill="#e35933"/>
<rect x="491.76" y="330.35" width="12.97" height="18.05" fill="#2b0b57"/>
<rect x="503.43" y="330.35" width="12.97" height="18.05" fill="#dd513a"/>
<rect x="515.11" y="330.35" width="12.97" height="18.05" fill="#cc4248"/>
<rect x="526.78" y="330.35" width="12.97" height="18.05" fill="#360961"/>
<rect x="538.46" y="330.35" width="12.97" height="18.05" fill="#ef6c23"/>
<rect x="550.13" y="330.35" width="12.97" height="18.05" fill="#f37819"/>
<rect x="561.80" y="330.35" width="12.97" height="18.05" fill="#550f6d"/>
<rect x="573.48" y="330.35" width="12.97" height="18.05" fill="#dd513a"/>
<rect x="585.15" y="330.35" width="12.97" height="18.05" fill="#a82e5f"/>
<rect x="596.83" y="330.35" width="11.67" height="18.05" fill="#420a68"/>
<rect x="340.00" y="347.10" width="12.97" height="18.05" fill="#cc4248"/>
<rect x="351.67" y="347.10" width="12.97" height="18.05" fill="#e35933"/>
<rect x="363.35" y="347.10" width="12.97" height="18.05" fill="#6a176e"/>
<rect x="375.02" y="347.10" width="12.97" height="18.05" fill="#e35933"/>
<rect x="386.70" y="347.10" width="12.97" height="18.05" fill="#fbbe23"/>
<rect x="398.37" y="347.10" width="12.97" height="18.05" fill="#751b6e"/>
<rect x="410.04" y="347.10" width="12.97" height="18.05" fill="#ea632a"/>
<rect x="421.72" y="347.10" width="12.97" height="18.05" fill="#dd513a"/>
<rect x="433.39" y="347.10" width="12.97" height="18.05" fill="#ea632a"/>
<rect x="445.07" y="347.10" width="12.97" height="18.05" fill="#751b6e"/>
<rect x="456.74" y="347.10" width="12.97" height="18.05" fill="#751b6e"/>
<rect x="468.41" y="347.10" width="12.97" height="18.05" fill="#7f1e6c"/>
<rect x="480.09" y="347.10" width="12.97" height="18.05" fill="#f78212"/>
<rect x="491.76" y="347.10" width="12.97" height="18.05" fill="#ef6c23"/>
<rect x="503.43" y="347.10" width="12.97" height="18.05" fill="#b1325a"/>
<rect x="515.11" y="347.10" width="12.97" height="18.05" fill="#b1325a"/>
<rect x="526.78" y="347.10" width="12.97" height="18.05" fill="#d54a41"/>
<rect x="538.46" y="347.10" width="12.97" height="18.05" fill="#d54a41"/>
<rect x="550.13" y="347.10" width="12.97" height="18.05" fill="#f78212"/>
<rect x="561.80" y="347.10" width="12.97" height="18.05" fill="#d54a41"/>
<rect x="573.48" y="347.10" width="12.97" height="18.05" fill="#f78212"/>
<rect x="585.15" y="347.10" width="12.97" height="18.05" fill="#9d2964"/>
<rect x="596.83" y="347.10" width="11.67" height="18.05" fill="#932667"/>
<rect x="340.00" y="363.85" width="12.97" height="18.05" fill="#360961"/>
<rect x="351.67" y="363.85" width="12.97" height="18.05" fill="#360961"/>
<rect x="363.35" y="363.85" width="12.97" height="18.05" fill="#d54a41"/>
<rect x="375.02" y="363.85" width="12.97" height="18.05" fill="#dd513a"/>
<rect x="386.70" y="363.85" width="12.97" height="18.05" fill="#88226a"/>
<rect x="398.37" y="363.85" width="12.97" height="18.05" fill="#932667"/>
<rect x="410.04" y="363.85" width="12.97" height="18.05" fill="#2b0b57"/>
<rect x="421.72" y="363.85" width="12.97" height="18.05" fill="#9d2964"/>
<rect x="433.39" y="363.85" width="12.97" height="18.05" fill="#cc4248"/>
<rect x="445.07" y="363.85" width="12.97" height="18.05" fill="#751b6e"/>
<rect x="456.74" y="363.85" width="12.97" height="18.05" fill="#a82e5f"/>
<rect x="468.41" y="363.85" width="12.97" height="18.05" fill="#7f1e6c"/>
<rect x="480.09" y="363.85" width="12.97" height="18.05" fill="#d54a41"/>
<rect x="491.76" y="363.85" width="12.97" height="18.05" fill="#dd513a"/>
<rect x="503.43" y="363.85" width="12.97" height="18.05" fill="#0e092b"/>
<rect x="515.11" y="363.85" width="12.97" height="18.05" fill="#cc4248"/>
<rect x="526.78" y="363.85" width="12.97" height="18.05" fill="#a82e5f"/>
<rect x="538.46" y="363.85" width="12.97" height="18.05" fill="#e35933"/>
<rect x="550.13" y="363.85" width="12.97" height="18.05" fill="#9d2964"/>
<rect x="561.80" y="363.85" width="12.97" height="18.05" fill="#ef6c23"/>
<rect x="573.48" y="363.85" width="12.97" height="18.05" fill="#550f6d"/>
<rect x="585.15" y="363.85" width="12.97" height="18.05" fill="#dd513a"/>
<rect x="596.83" y="363.85" width="11.67" height="18.05" fill="#a82e5f"/>
<rect x="340.00" y="380.60" width="12.97" height="18.05" fill="#f78212"/>
<rect x="351.67" y="380.60" width="12.97" height="18.05" fill="#f3f586"/>
<rect x="363.35" y="380.60" width="12.97" height="18.05" fill="#e35933"/>
<rect x="375.02" y="380.60" width="12.97" height="18.05" fill="#ea632a"/>
<rect x="386.70" y="380.60" width="12.97" height="18.05" fill="#fcb216"/>
<rect x="398.37" y="380.60" width="12.97" height="18.05" fill="#f78212"/>
<rect x="410.04" y="380.60" width="12.97" height="18.05" fill="#ef6c23"/>
<rect x="421.72" y="380.60" width="12.97" height="18.05" fill="#fcb216"/>
<rect x="433.39" y="380.60" width="12.97" height="18.05" fill="#dd513a"/>
<rect x="445.07" y="380.60" width="12.97" height="18.05" fill="#e35933"/>
<rect x="456.74" y="380.60" width="12.97" height="18.05" fill="#ef6c23"/>
<rect x="468.41" y="380.60" width="12.97" height="18.05" fill="#fca50a"/>
<rect x="480.09" y="380.60" width="12.97" height="18.05" fill="#ea632a"/>
<rect x="491.76" y="380.60" width="12.97" height="18.05" fill="#fbbe23"/>
<rect x="503.43" y="380.60" width="12.97" height="18.05" fill="#fcb216"/>
<rect x="515.11" y="380.60" width="12.97" height="18.05" fill="#f98c0a"/>
<rect x="526.78" y="380.60" width="12.97" height="18.05" fill="#fb9906"/>
<rect x="538.46" y="380.60" width="12.97" height="18.05" fill="#fcb216"/>
<rect x="550.13" y="380.60" width="12.97" height="18.05" fill="#ef6c23"/>
<rect x="561.80" y="380.60" width="12.97" height="18.05" fill="#f37819"/>
<rect x="573.48" y="380.60" width="12.97" height="18.05" fill="#cc4248"/>
<rect x="585.15" y="380.60" width="12.97" height="18.05" fill="#f78212"/>
<rect x="596.83" y="380.60" width="11.67" height="18.05" fill="#fb9906"/>
<rect x="340.00" y="397.35" width="12.97" height="18.05" fill="#d54a41"/>
<rect x="351.67" y="397.35" width="12.97" height="18.05" fill="#f37819"/>
<rect x="363.35" y="397.35" width="12.97" height="18.05" fill="#d54a41"/>
<rect x="375.02" y="397.35" width="12.97" height="18.05" fill="#dd513a"/>
<rect x="386.70" y="397.35" width="12.97" height="18.05" fill="#f98c0a"/>
<rect x="398.37" y="397.35" width="12.97" height="18.05" fill="#f98c0a"/>
<rect x="410.04" y="397.35" width="12.97" height="18.05" fill="#dd513a"/>
<rect x="421.72" y="397.35" width="12.97" height="18.05" fill="#9d2964"/>
<rect x="433.39" y="397.35" width="12.97" height="18.05" fill="#c43c4e"/>
<rect x="445.07" y="397.35" width="12.97" height="18.05" fill="#e35933"/>
<rect x="456.74" y="397.35" width="12.97" height="18.05" fill="#fcb216"/>
<rect x="468.41" y="397.35" width="12.97" height="18.05" fill="#ef6c23"/>
<rect x="480.09" y="397.35" width="12.97" height="18.05" fill="#f37819"/>
<rect x="491.76" y="397.35" width="12.97" height="18.05" fill="#fcb216"/>
<rect x="503.43" y="397.35" width="12.97" height="18.05" fill="#ea632a"/>
<rect x="515.11" y="397.35" width="12.97" height="18.05" fill="#fb9906"/>
<rect x="526.78" y="397.35" width="12.97" height="18.05" fill="#e35933"/>
<rect x="538.46" y="397.35" width="12.97" height="18.05" fill="#420a68"/>
<rect x="550.13" y="397.35" width="12.97" height="18.05" fill="#751b6e"/>
<rect x="561.80" y="397.35" width="12.97" height="18.05" fill="#c43c4e"/>
<rect x="573.48" y="397.35" width="12.97" height="18.05" fill="#e35933"/>
<rect x="585.15" y="397.35" width="12.97" height="18.05" fill="#f78212"/>
<rect x="596.83" y="397.35" width="11.67" height="18.05" fill="#dd513a"/>
<rect x="340.00" y="414.10" width="12.97" height="18.05" fill="#d54a41"/>
<rect x="351.67" y="414.10" width="12.97" height="18.05" fill="#9d2964"/>
<rect x="363.35" y="414.10" width="12.97" height="18.05" fill="#550f6d"/>
<rect x="375.02" y="414.10" width="12.97" height="18.05" fill="#b1325a"/>
<rect x="386.70" y="414.10" width="12.97" height="18.05" fill="#f78212"/>
<rect x="398.37" y="414.10" width="12.97" height="18.05" fill="#dd513a"/>
<rect x="410.04" y="414.10" width="12.97" height="18.05" fill="#9d2964"/>
<rect x="421.72" y="414.10" width="12.97" height="18.05" fill="#f78212"/>
<rect x="433.39" y="414.10" width="12.97" height="18.05" fill="#c43c4e"/>
<rect x="445.07" y="414.10" width="12.97" height="18.05" fill="#1f0c48"/>
<rect x="456.74" y="414.10" width="12.97" height="18.05" fill="#61136e"/>
<rect x="468.41" y="414.10" width="12.97" height="18.05" fill="#e35933"/>
<rect x="480.09" y="414.10" width="12.97" height="18.05" fill="#f78212"/>
<rect x="491.76" y="414.10" width="12.97" height="18.05" fill="#cc4248"/>
<rect x="503.43" y="414.10" width="12.97" height="18.05" fill="#c43c4e"/>
<rect x="515.11" y="414.10" width="12.97" height="18.05" fill="#751b6e"/>
<rect x="526.78" y="414.10" width="12.97" height="18.05" fill="#e35933"/>
<rect x="538.46" y="414.10" width="12.97" height="18.05" fill="#ba3655"/>
<rect x="550.13" y="414.10" width="12.97" height="18.05" fill="#cc4248"/>
<rect x="561.80" y="414.10" width="12.97" height="18.05" fill="#c43c4e"/>
<rect x="573.48" y="414.10" width="12.97" height="18.05" fill="#1f0c48"/>
<rect x="585.15" y="414.10" width="12.97" height="18.05" fill="#f37819"/>
<rect x="596.83" y="414.10" width="11.67" height="18.05" fill="#ea632a"/>
<rect x="340.00" y="430.85" width="12.97" height="18.05" fill="#cc4248"/>
<rect x="351.67" y="430.85" width="12.97" height="18.05" fill="#000004"/>
<rect x="363.35" y="430.85" width="12.97" height="18.05" fill="#420a68"/>
<rect x="375.02" y="430.85" width="12.97" height="18.05" fill="#7f1e6c"/>
<rect x="386.70" y="430.85" width="12.97" height="18.05" fill="#751b6e"/>
<rect x="398.37" y="430.85" width="12.97" height="18.05" fill="#2b0b57"/>
<rect x="410.04" y="430.85" width="12.97" height="18.05" fill="#6a176e"/>
<rect x="421.72" y="430.85" width="12.97" height="18.05" fill="#ba3655"/>
<rect x="433.39" y="430.85" width="12.97" height="18.05" fill="#550f6d"/>
<rect x="445.07" y="430.85" width="12.97" height="18.05" fill="#9d2964"/>
<rect x="456.74" y="430.85" width="12.97" height="18.05" fill="#ba3655"/>
<rect x="468.41" y="430.85" width="12.97" height="18.05" fill="#1f0c48"/>
<rect x="480.09" y="430.85" width="12.97" height="18.05" fill="#550f6d"/>
<rect x="491.76" y="430.85" width="12.97" height="18.05" fill="#ba3655"/>
<rect x="503.43" y="430.85" width="12.97" height="18.05" fill="#932667"/>
<rect x="515.11" y="430.85" width="12.97" height="18.05" fill="#751b6e"/>
<rect x="526.78" y="430.85" width="12.97" height="18.05" fill="#b1325a"/>
<rect x="538.46" y="430.85" width="12.97" height="18.05" fill="#e35933"/>
<rect x="550.13" y="430.85" width="12.97" height="18.05" fill="#02020e"/>
<rect x="561.80" y="430.85" width="12.97" height="18.05" fill="#4c0c6b"/>
<rect x="573.48" y="430.85" width="12.97" height="18.05" fill="#550f6d"/>
<rect x="585.15" y="430.85" width="12.97" height="18.05" fill="#2b0b57"/>
<rect x="596.83" y="430.85" width="11.67" height="18.05" fill="#751b6e"/>
<rect x="340.00" y="447.60" width="12.97" height="18.05" fill="#f37819"/>
<rect x="351.67" y="447.60" width="12.97" height="18.05" fill="#dd513a"/>
<rect x="363.35" y="447.60" width="12.97" height="18.05" fill="#f78212"/>
<rect x="375.02" y="447.60" width="12.97" height="18.05" fill="#cc4248"/>
<rect x="386.70" y="447.60" width="12.97" height="18.05" fill="#d54a41"/>
<rect x="398.37" y="447.60" width="12.97" height="18.05" fill="#ea632a"/>
<rect x="410.04" y="447.60" width="12.97" height="18.05" fill="#ba3655"/>
<rect x="421.72" y="447.60" width="12.97" height="18.05" fill="#ea632a"/>
<rect x="433.39" y="447.60" width="12.97" height="18.05" fill="#fcb216"/>
<rect x="445.07" y="447.60" width="12.97" height="18.05" fill="#ba3655"/>
<rect x="456.74" y="447.60" width="12.97" height="18.05" fill="#9d2964"/>
<rect x="468.41" y="447.60" width="12.97" height="18.05" fill="#d54a41"/>
<rect x="480.09" y="447.60" width="12.97" height="18.05" fill="#ea632a"/>
<rect x="491.76" y="447.60" width="12.97" height="18.05" fill="#d54a41"/>
<rect x="503.43" y="447.60" width="12.97" height="18.05" fill="#c43c4e"/>
<rect x="515.11" y="447.60" width="12.97" height="18.05" fill="#f78212"/>
<rect x="526.78" y="447.60" width="12.97" height="18.05" fill="#d54a41"/>
<rect x="538.46" y="447.60" width="12.97" height="18.05" fill="#f78212"/>
<rect x="550.13" y="447.60" width="12.97" height="18.05" fill="#f37819"/>
<rect x="561.80" y="447.60" width="12.97" height="18.05" fill="#d54a41"/>
<rect x="573.48" y="447.60" width="12.97" height="18.05" fill="#ea632a"/>
<rect x="585.15" y="447.60" width="12.97" height="18.05" fill="#d54a41"/>
<rect x="596.83" y="447.60" width="11.67" height="18.05" fill="#e35933"/>
<rect x="340.00" y="464.35" width="12.97" height="18.05" fill="#ba3655"/>
<rect x="351.67" y="464.35" width="12.97" height="18.05" fill="#0e092b"/>
<rect x="363.35" y="464.35" width="12.97" height="18.05" fill="#1f0c48"/>
<rect x="375.02" y="464.35" width="12.97" height="18.05" fill="#ea632a"/>
<rect x="386.70" y="464.35" width="12.97" height="18.05" fill="#b1325a"/>
<rect x="398.37" y="464.35" width="12.97" height="18.05" fill="#2b0b57"/>
<rect x="410.04" y="464.35" width="12.97" height="18.05" fill="#9d2964"/>
<rect x="421.72" y="464.35" width="12.97" height="18.05" fill="#000004"/>
<rect x="433.39" y="464.35" width="12.97" height="18.05" fill="#932667"/>
<rect x="445.07" y="464.35" width="12.97" height="18.05" fill="#751b6e"/>
<rect x="456.74" y="464.35" width="12.97" height="18.05" fill="#f37819"/>
<rect x="468.41" y="464.35" width="12.97" height="18.05" fill="#751b6e"/>
<rect x="480.09" y="464.35" width="12.97" height="18.05" fill="#ba3655"/>
<rect x="491.76" y="464.35" width="12.97" height="18.05" fill="#cc4248"/>
<rect x="503.43" y="464.35" width="12.97" height="18.05" fill="#420a68"/>
<rect x="515.11" y="464.35" width="12.97" height="18.05" fill="#f78212"/>
<rect x="526.78" y="464.35" width="12.97" height="18.05" fill="#ba3655"/>
<rect x="538.46" y="464.35" width="12.97" height="18.05" fill="#f37819"/>
<rect x="550.13" y="464.35" width="12.97" height="18.05" fill="#1f0c48"/>
<rect x="561.80" y="464.35" width="12.97" height="18.05" fill="#d54a41"/>
<rect x="573.48" y="464.35" width="12.97" height="18.05" fill="#932667"/>
<rect x="585.15" y="464.35" width="12.97" height="18.05" fill="#000004"/>
<rect x="596.83" y="464.35" width="11.67" height="18.05" fill="#932667"/>
<rect x="340.00" y="481.10" width="12.97" height="18.05" fill="#fb9906"/>
<rect x="351.67" y="481.10" width="12.97" height="18.05" fill="#fbbe23"/>
<rect x="363.35" y="481.10" width="12.97" height="18.05" fill="#fca50a"/>
<rect x="375.02" y="481.10" width="12.97" height="18.05" fill="#fb9906"/>
<rect x="386.70" y="481.10" width="12.97" height="18.05" fill="#f98c0a"/>
<rect x="398.37" y="481.10" width="12.97" height="18.05" fill="#f78212"/>
<rect x="410.04" y="481.10" width="12.97" height="18.05" fill="#d54a41"/>
<rect x="421.72" y="481.10" width="12.97" height="18.05" fill="#fb9906"/>
<rect x="433.39" y="481.10" width="12.97" height="18.05" fill="#dd513a"/>
<rect x="445.07" y="481.10" width="12.97" height="18.05" fill="#f37819"/>
<rect x="456.74" y="481.10" width="12.97" height="18.05" fill="#f37819"/>
<rect x="468.41" y="481.10" width="12.97" height="18.05" fill="#fca50a"/>
<rect x="480.09" y="481.10" width="12.97" height="18.05" fill="#ea632a"/>
<rect x="491.76" y="481.10" width="12.97" height="18.05" fill="#e35933"/>
<rect x="503.43" y="481.10" width="12.97" height="18.05" fill="#dd513a"/>
<rect x="515.11" y="481.10" width="12.97" height="18.05" fill="#f37819"/>
<rect x="526.78" y="481.10" width="12.97" height="18.05" fill="#fbbe23"/>
<rect x="538.46" y="481.10" width="12.97" height="18.05" fill="#f37819"/>
<rect x="550.13" y="481.10" width="12.97" height="18.05" fill="#fb9906"/>
<rect x="561.80" y="481.10" width="12.97" height="18.05" fill="#f37819"/>
<rect x="573.48" y="481.10" width="12.97" height="18.05" fill="#fb9906"/>
<rect x="585.15" y="481.10" width="12.97" height="18.05" fill="#f78212"/>
<rect x="596.83" y="481.10" width="11.67" height="18.05" fill="#fb9906"/>
<rect x="340.00" y="497.85" width="12.97" height="16.75" fill="#88226a"/>
<rect x="351.67" y="497.85" width="12.97" height="16.75" fill="#f98c0a"/>
<rect x="363.35" y="497.85" width="12.97" height="16.75" fill="#2b0b57"/>
<rect x="375.02" y="497.85" width="12.97" height="16.75" fill="#fb9906"/>
<rect x="386.70" y="497.85" width="12.97" height="16.75" fill="#ef6c23"/>
<rect x="398.37" y="497.85" width="12.97" height="16.75" fill="#f37819"/>
<rect x="410.04" y="497.85" width="12.97" height="16.75" fill="#cc4248"/>
<rect x="421.72" y="497.85" width="12.97" height="16.75" fill="#cc4248"/>
<rect x="433.39" y="497.85" width="12.97" height="16.75" fill="#f37819"/>
<rect x="445.07" y="497.85" width="12.97" height="16.75" fill="#f78212"/>
<rect x="456.74" y="497.85" width="12.97" height="16.75" fill="#f98c0a"/>
<rect x="468.41" y="497.85" width="12.97" height="16.75" fill="#ea632a"/>
<rect x="480.09" y="497.85" width="12.97" height="16.75" fill="#cc4248"/>
<rect x="491.76" y="497.85" width="12.97" height="16.75" fill="#f98c0a"/>
<rect x="503.43" y="497.85" width="12.97" height="16.75" fill="#f98c0a"/>
<rect x="515.11" y="497.85" width="12.97" height="16.75" fill="#d54a41"/>
<rect x="526.78" y="497.85" width="12.97" height="16.75" fill="#c43c4e"/>
<rect x="538.46" y="497.85" width="12.97" height="16.75" fill="#751b6e"/>
<rect x="550.13" y="497.85" width="12.97" height="16.75" fill="#cc4248"/>
<rect x="561.80" y="497.85" width="12.97" height="16.75" fill="#c43c4e"/>
<rect x="573.48" y="497.85" width="12.97" height="16.75" fill="#fb9906"/>
<rect x="585.15" y="497.85" width="12.97" height="16.75" fill="#a82e5f"/>
<rect x="596.83" y="497.85" width="11.67" height="16.75" fill="#d54a41"/>
<rect x="340.00" y="313.60" width="268.50" height="201.00" fill="none" stroke="#222" stroke-width="0.7"/>
<line x1="336.30" y1="321.98" x2="340.00" y2="321.98" stroke="#222" stroke-width="0.8"/>
<text x="333.40" y="324.38" font-size="8" text-anchor="end">CFI</text>
<line x1="336.30" y1="338.73" x2="340.00" y2="338.73" stroke="#222" stroke-width="0.8"/>
<text x="333.40" y="341.12" font-size="8" text-anchor="end">CFP</text>
<line x1="336.30" y1="355.48" x2="340.00" y2="355.48" stroke="#222" stroke-width="0.8"/>
<text x="333.40" y="357.88" font-size="8" text-anchor="end">EFI</text>
<line x1="336.30" y1="372.23" x2="340.00" y2="372.23" stroke="#222" stroke-width="0.8"/>
<text x="333.40" y="374.62" font-size="8" text-anchor="end">EFP</text>
<line x1="336.30" y1="388.98" x2="340.00" y2="388.98" stroke="#222" stroke-width="0.8"/>
<text x="333.40" y="391.38" font-size="8" text-anchor="end">LFI</text>
<line x1="336.30" y1="405.73" x2="340.00" y2="405.73" stroke="#222" stroke-width="0.8"/>
<text x="333.40" y="408.12" font-size="8" text-anchor="end">LFP</text>
<line x1="336.30" y1="422.48" x2="340.00" y2="422.48" stroke="#222" stroke-width="0.8"/>
<text x="333.40" y="424.88" font-size="8" text-anchor="end">MFI</text>
<line x1="336.30" y1="439.23" x2="340.00" y2="439.23" stroke="#222" stroke-width="0.8"/>
<text x="333.40" y="441.62" font-size="8" text-anchor="end">MFP</text>
<line x1="336.30" y1="455.98" x2="340.00" y2="455.98" stroke="#222" stroke-width="0.8"/>
<text x="333.40" y="458.38" font-size="8" text-anchor="end">NFI</text>
<line x1="336.30" y1="472.73" x2="340.00" y2="472.73" stroke="#222" stroke-width="0.8"/>
<text x="333.40" y="475.12" font-size="8" text-anchor="end">NFP</text>
<line x1="336.30" y1="489.48" x2="340.00" y2="489.48" stroke="#222" stroke-width="0.8"/>
<text x="333.40" y="491.88" font-size="8" text-anchor="end">WFI</text>
<line x1="336.30" y1="506.23" x2="340.00" y2="506.23" stroke="#222" stroke-width="0.8"/>
<text x="333.40" y="508.62" font-size="8" text-anchor="end">WFP</text>
<line x1="345.84" y1="514.60" x2="345.84" y2="518.70" stroke="#222" stroke-width="0.8"/>
<text transform="translate(350.24,525.50) rotate(-45)" font-size="5.85" font-style="italic" text-anchor="end">Agriculture</text>
<line x1="357.51" y1="514.60" x2="357.51" y2="518.70" stroke="#222" stroke-width="0.8"/>
<text transform="translate(361.91,525.50) rotate(-45)" font-size="5.85" font-style="italic" text-anchor="end">Construction</text>
<line x1="369.18" y1="514.60" x2="369.18" y2="518.70" stroke="#222" stroke-width="0.8"/>
<text transform="translate(373.58,525.50) rotate(-45)" font-size="5.85" font-style="italic" text-anchor="end">Education&amp;Health</text>
<line x1="380.86" y1="514.60" x2="380.86" y2="518.70" stroke="#222" stroke-width="0.8"/>
<text transform="translate(385.26,525.50) rotate(-45)" font-size="5.85" font-style="italic" text-anchor="end">Electrical&amp;machinery</text>
<line x1="392.53" y1="514.60" x2="392.53" y2="518.70" stroke="#222" stroke-width="0.8"/>
<text transform="translate(396.93,525.50) rotate(-45)" font-size="5.85" font-style="italic" text-anchor="end">Electricity_gas&amp;water</text>
<line x1="404.21" y1="514.60" x2="404.21" y2="518.70" stroke="#222" stroke-width="0.8"/>
<text transform="translate(408.61,525.50) rotate(-45)" font-size="5.85" font-style="italic" text-anchor="end">Finacial</text>
<line x1="415.88" y1="514.60" x2="415.88" y2="518.70" stroke="#222" stroke-width="0.8"/>
<text transform="translate(420.28,525.50) rotate(-45)" font-size="5.85" font-style="italic" text-anchor="end">Food beverages</text>
<line x1="427.55" y1="514.60" x2="427.55" y2="518.70" stroke="#222" stroke-width="0.8"/>
<text transform="translate(431.95,525.50) rotate(-45)" font-size="5.85" font-style="italic" text-anchor="end">Hotels&amp;restraurants</text>
<line x1="439.23" y1="514.60" x2="439.23" y2="518.70" stroke="#222" stroke-width="0.8"/>
<text transform="translate(443.63,525.50) rotate(-45)" font-size="5.85" font-style="italic" text-anchor="end">Maintenance&amp;repair</text>
<line x1="450.90" y1="514.60" x2="450.90" y2="518.70" stroke="#222" stroke-width="0.8"/>
<text transform="translate(455.30,525.50) rotate(-45)" font-size="5.85" font-style="italic" text-anchor="end">Metal</text>
<line x1="462.58" y1="514.60" x2="462.58" y2="518.70" stroke="#222" stroke-width="0.8"/>
<text transform="translate(466.98,525.50) rotate(-45)" font-size="5.85" font-style="italic" text-anchor="end">Mining</text>
<line x1="474.25" y1="514.60" x2="474.25" y2="518.70" stroke="#222" stroke-width="0.8"/>
<text transform="translate(478.65,525.50) rotate(-45)" font-size="5.85" font-style="italic" text-anchor="end">other manufacturing</text>
<line x1="485.92" y1="514.60" x2="485.92" y2="518.70" stroke="#222" stroke-width="0.8"/>
<text transform="translate(490.32,525.50) rotate(-45)" font-size="5.85" font-style="italic" text-anchor="end">Others</text>
<line x1="497.60" y1="514.60" x2="497.60" y2="518.70" stroke="#222" stroke-width="0.8"/>
<text transform="translate(502.00,525.50) rotate(-45)" font-size="5.85" font-style="italic" text-anchor="end">Petroleum</text>
<line x1="509.27" y1="514.60" x2="509.27" y2="518.70" stroke="#222" stroke-width="0.8"/>
<text transform="translate(513.67,525.50) rotate(-45)" font-size="5.85" font-style="italic" text-anchor="end">Post&amp;Tele</text>
<line x1="520.95" y1="514.60" x2="520.95" y2="518.70" stroke="#222" stroke-width="0.8"/>
<text transform="translate(525.35,525.50) rotate(-45)" font-size="5.85" font-style="italic" text-anchor="end">Private_households</text>
<line x1="532.62" y1="514.60" x2="532.62" y2="518.70" stroke="#222" stroke-width="0.8"/>
<text transform="translate(537.02,525.50) rotate(-45)" font-size="5.85" font-style="italic" text-anchor="end">Public administration</text>
<line x1="544.29" y1="514.60" x2="544.29" y2="518.70" stroke="#222" stroke-width="0.8"/>
<text transform="translate(548.69,525.50) rotate(-45)" font-size="5.85" font-style="italic" text-anchor="end">Recycling</text>
<line x1="555.97" y1="514.60" x2="555.97" y2="518.70" stroke="#222" stroke-width="0.8"/>
<text transform="translate(560.37,525.50) rotate(-45)" font-size="5.85" font-style="italic" text-anchor="end">Textiles</text>
<line x1="567.64" y1="514.60" x2="567.64" y2="518.70" stroke="#222" stroke-width="0.8"/>
<text transform="translate(572.04,525.50) rotate(-45)" font-size="5.85" font-style="italic" text-anchor="end">Transport</text>
<line x1="579.32" y1="514.60" x2="579.32" y2="518.70" stroke="#222" stroke-width="0.8"/>
<text transform="translate(583.72,525.50) rotate(-45)" font-size="5.85" font-style="italic" text-anchor="end">Transport equipment</text>
<line x1="590.99" y1="514.60" x2="590.99" y2="518.70" stroke="#222" stroke-width="0.8"/>
<text transform="translate(595.39,525.50) rotate(-45)" font-size="5.85" font-style="italic" text-anchor="end">Wholesale&amp;retail_trade</text>
<line x1="602.66" y1="514.60" x2="602.66" y2="518.70" stroke="#222" stroke-width="0.8"/>
<text transform="translate(607.06,525.50) rotate(-45)" font-size="5.85" font-style="italic" text-anchor="end">Wood&amp;paper</text>
</g>
<rect x="618.4" y="21.00" width="15.50" height="6.18" fill="#010106"/>
<rect x="618.4" y="25.88" width="15.50" height="6.18" fill="#030210"/>
<rect x="618.4" y="30.76" width="15.50" height="6.18" fill="#07051b"/>
<rect x="618.4" y="35.65" width="15.50" height="6.18" fill="#0c0826"/>
<rect x="618.4" y="40.53" width="15.50" height="6.18" fill="#140b34"/>
<rect x="618.4" y="45.41" width="15.50" height="6.18" fill="#1b0c41"/>
<rect x="618.4" y="50.29" width="15.50" height="6.18" fill="#230c4c"/>
<rect x="618.4" y="55.17" width="15.50" height="6.18" fill="#2b0b57"/>
<rect x="618.4" y="60.06" width="15.50" height="6.18" fill="#340a5f"/>
<rect x="618.4" y="64.94" width="15.50" height="6.18" fill="#3d0965"/>
<rect x="618.4" y="69.82" width="15.50" height="6.18" fill="#450a69"/>
<rect x="618.4" y="74.70" width="15.50" height="6.18" fill="#4d0d6c"/>
<rect x="618.4" y="79.58" width="15.50" height="6.18" fill="#550f6d"/>
<rect x="618.4" y="84.47" width="15.50" height="6.18" fill="#5f136e"/>
<rect x="618.4" y="89.35" width="15.50" height="6.18" fill="#67166e"/>
<rect x="618.4" y="94.23" width="15.50" height="6.18" fill="#6f196e"/>
<rect x="618.4" y="99.11" width="15.50" height="6.18" fill="#771c6d"/>
<rect x="618.4" y="103.99" width="15.50" height="6.18" fill="#7f1e6c"/>
<rect x="618.4" y="108.88" width="15.50" height="6.18" fill="#87216b"/>
<rect x="618.4" y="113.76" width="15.50" height="6.18" fill="#8f2469"/>
<rect x="618.4" y="118.64" width="15.50" height="6.18" fill="#972766"/>
<rect x="618.4" y="123.52" width="15.50" height="6.18" fill="#a02a63"/>
<rect x="618.4" y="128.40" width="15.50" height="6.18" fill="#a82e5f"/>
<rect x="618.4" y="133.29" width="15.50" height="6.18" fill="#b0315b"/>
<rect x="618.4" y="138.17" width="15.50" height="6.18" fill="#b73557"/>
<rect x="618.4" y="143.05" width="15.50" height="6.18" fill="#bf3952"/>
<rect x="618.4" y="147.93" width="15.50" height="6.18" fill="#c63d4d"/>
<rect x="618.4" y="152.81" width="15.50" height="6.18" fill="#cc4248"/>
<rect x="618.4" y="157.70" width="15.50" height="6.18" fill="#d34743"/>
<rect x="618.4" y="162.58" width="15.50" height="6.18" fill="#da4e3c"/>
<rect x="618.4" y="167.46" width="15.50" height="6.18" fill="#e05536"/>
<rect x="618.4" y="172.34" width="15.50" height="6.18" fill="#e55c30"/>
<rect x="618.4" y="177.22" width="15.50" height="6.18" fill="#ea632a"/>
<rect x="618.4" y="182.11" width="15.50" height="6.18" fill="#ee6a24"/>
<rect x="618.4" y="186.99" width="15.50" height="6.18" fill="#f1731d"/>
<rect x="618.4" y="191.87" width="15.50" height="6.18" fill="#f57b17"/>
<rect x="618.4" y="196.75" width="15.50" height="6.18" fill="#f78410"/>
<rect x="618.4" y="201.63" width="15.50" height="6.18" fill="#f98c0a"/>
<rect x="618.4" y="206.52" width="15.50" height="6.18" fill="#fb9706"/>
<rect x="618.4" y="211.40" width="15.50" height="6.18" fill="#fca108"/>
<rect x="618.4" y="216.28" width="15.50" height="6.18" fill="#fcaa0f"/>
<rect x="618.4" y="221.16" width="15.50" height="6.18" fill="#fcb418"/>
<rect x="618.4" y="226.04" width="15.50" height="6.18" fill="#fbbe23"/>
<rect x="618.4" y="230.93" width="15.50" height="6.18" fill="#f9c72f"/>
<rect x="618.4" y="235.81" width="15.50" height="6.18" fill="#f7d13d"/>
<rect x="618.4" y="240.69" width="15.50" height="6.18" fill="#f5db4c"/>
<rect x="618.4" y="245.57" width="15.50" height="6.18" fill="#f2e661"/>
<rect x="618.4" y="250.45" width="15.50" height="6.18" fill="#f1ef75"/>
<rect x="618.4" y="255.34" width="15.50" height="6.18" fill="#f3f68a"/>
<rect x="618.4" y="260.22" width="15.50" height="4.88" fill="#f9fc9d"/>
<rect x="618.4" y="21.0" width="15.50" height="244.10" fill="none" stroke="#222" stroke-width="0.7"/>
<line x1="633.9" y1="21.00"  x2="637.60" y2="21.00" stroke="#444" stroke-width="0.8"/>
<text x="641.7" y="24.60" font-size="9.8" style="stroke:#000;stroke-width:.25px">20.0</text>
<line x1="633.9" y1="82.03"  x2="637.60" y2="82.03" stroke="#444" stroke-width="0.8"/>
<text x="641.7" y="85.62" font-size="9.8" style="stroke:#000;stroke-width:.25px">15.0</text>
<line x1="633.9" y1="143.05"  x2="637.60" y2="143.05" stroke="#444" stroke-width="0.8"/>
<text x="641.7" y="146.65" font-size="9.8" style="stroke:#000;stroke-width:.25px">10.0</text>
<line x1="633.9" y1="204.08"  x2="637.60" y2="204.08" stroke="#444" stroke-width="0.8"/>
<text x="641.7" y="207.68" font-size="9.8" style="stroke:#000;stroke-width:.25px">5.0</text>
<line x1="633.9" y1="265.10"  x2="637.60" y2="265.10" stroke="#444" stroke-width="0.8"/>
<text x="641.7" y="268.70" font-size="9.8" style="stroke:#000;stroke-width:.25px">0.0</text>
<text transform="translate(681.6,142.3) rotate(-90)" font-size="12.8" text-anchor="middle" style="stroke:#000;stroke-width:.25px">Importance</text>
</svg></body></html>
